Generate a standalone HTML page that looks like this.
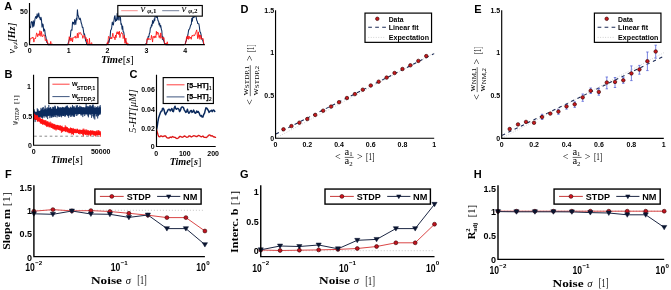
<!DOCTYPE html>
<html><head><meta charset="utf-8"><style>
html,body{margin:0;padding:0;background:#fff;width:671px;height:290px;overflow:hidden}
svg{display:block;will-change:transform}
</style></head><body>
<svg xmlns="http://www.w3.org/2000/svg" width="671" height="290" viewBox="0 0 671 290">
<rect width="671" height="290" fill="#fff"/>
<text x="4.3" y="9.6" font-size="11" font-family="Liberation Sans, sans-serif" font-weight="bold" >A</text>
<text x="4.6" y="77.8" font-size="11" font-family="Liberation Sans, sans-serif" font-weight="bold" >B</text>
<text x="129.6" y="77.9" font-size="11" font-family="Liberation Sans, sans-serif" font-weight="bold" >C</text>
<text x="240.5" y="12.9" font-size="11" font-family="Liberation Sans, sans-serif" font-weight="bold" >D</text>
<text x="474.3" y="12.9" font-size="11" font-family="Liberation Sans, sans-serif" font-weight="bold" >E</text>
<text x="5" y="178.3" font-size="11" font-family="Liberation Sans, sans-serif" font-weight="bold" >F</text>
<text x="240" y="178.4" font-size="11" font-family="Liberation Sans, sans-serif" font-weight="bold" >G</text>
<text x="473.8" y="178.2" font-size="11" font-family="Liberation Sans, sans-serif" font-weight="bold" >H</text>
<polyline points="29.5,27.51 30.04,26.77 30.59,27.77 31.13,22.18 31.68,21.62 32.22,22.51 32.77,27.2 33.31,20.8 33.86,26.11 34.4,23.28 34.95,19.23 35.49,17.14 36.04,16.45 36.58,18.49 37.12,13.81 37.67,17.21 38.21,16.13 38.76,13.03 39.3,17.01 39.85,17.92 40.39,19.77 40.94,17.22 41.48,19.86 42.03,27.2 42.57,23.91 43.12,24.56 43.66,31.11 44.2,28.96 44.75,30.13 45.29,34.83 45.84,36.54 46.38,40.1 46.93,42.56 47.47,42.48 48.02,44.6 48.56,44.6 49.11,44.6 49.65,44.6 50.19,44.6 50.74,44.6 51.28,44.6 51.83,44.6 52.37,44.6 52.92,44.6 53.46,44.6 54.01,44.6 54.55,44.6 55.1,44.6 55.64,44.6 56.19,44.6 56.73,44.6 57.27,44.6 57.82,44.6 58.36,44.6 58.91,44.6 59.45,44.6 60,44.6 60.54,44.6 61.09,44.6 61.63,44.6 62.18,44.6 62.72,44.6 63.27,44.6 63.81,44.6 64.35,44.6 64.9,44.6 65.44,44.6 65.99,44.6 66.53,44.6 67.08,44.6 67.62,44.6 68.17,43.2 68.71,41.61 69.26,39.65 69.8,37.15 70.34,37.07 70.89,30.66 71.43,29.73 71.98,30.24 72.52,22.11 73.07,23.54 73.61,22.4 74.16,24.68 74.7,19.59 75.25,20.91 75.79,24.47 76.34,18.18 76.88,19.96 77.42,9.83 77.97,15.28 78.51,16.03 79.06,18.85 79.6,19.41 80.15,18.15 80.69,20.12 81.24,23.07 81.78,24.34 82.33,27.35 82.87,27.17 83.42,30.54 83.96,34.55 84.5,33.92 85.05,36.76 85.59,40.7 86.14,41.55 86.68,43.95 87.23,44.6 87.77,44.6 88.32,44.6 88.86,44.6 89.41,44.6 89.95,44.6 90.5,44.6 91.04,44.6 91.58,44.6 92.13,44.6 92.67,44.6 93.22,44.6 93.76,44.6 94.31,44.6 94.85,44.6 95.4,44.6 95.94,44.6 96.49,44.6 97.03,44.6 97.58,44.6 98.12,44.6 98.66,44.6 99.21,44.6 99.75,44.6 100.3,44.6 100.84,44.6 101.39,44.6 101.93,44.6 102.48,44.6 103.02,44.6 103.57,44.6 104.11,44.6 104.65,44.6 105.2,44.6 105.74,44.6 106.29,44.6 106.83,44.6 107.38,43.51 107.92,43.42 108.47,40.72 109.01,42.3 109.56,38.97 110.1,37.03 110.65,30.3 111.19,29.71 111.73,27.54 112.28,22.08 112.82,24.44 113.37,24.96 113.91,20.97 114.46,16.7 115,15.65 115.55,21.49 116.09,19.18 116.64,20.51 117.18,13.22 117.73,18.93 118.27,20.05 118.81,12.23 119.36,13.54 119.9,20.1 120.45,17.23 120.99,24.46 121.54,23.82 122.08,29.21 122.63,26.07 123.17,31.74 123.72,32.06 124.26,35.87 124.81,38.63 125.35,40.85 125.89,41.7 126.44,44.44 126.98,44.6 127.53,44.6 128.07,44.6 128.62,44.6 129.16,44.6 129.71,44.6 130.25,44.6 130.8,44.6 131.34,44.6 131.88,44.6 132.43,44.6 132.97,44.6 133.52,44.6 134.06,44.6 134.61,44.6 135.15,44.6 135.7,44.6 136.24,44.6 136.79,44.6 137.33,44.6 137.88,44.6 138.42,44.6 138.96,44.6 139.51,44.6 140.05,44.6 140.6,44.6 141.14,44.6 141.69,44.6 142.23,44.6 142.78,44.6 143.32,44.6 143.87,44.6 144.41,44.6 144.96,44.6 145.5,44.6 146.04,43.5 146.59,43.73 147.13,39.86 147.68,38.85 148.22,36.49 148.77,37.02 149.31,33.79 149.86,32.61 150.4,27.79 150.95,27.64 151.49,24.85 152.03,25.83 152.58,20.53 153.12,23.37 153.67,22.17 154.21,18.96 154.76,20.73 155.3,12.44 155.85,11.66 156.39,17.55 156.94,12.38 157.48,17.72 158.03,20.84 158.57,21.05 159.11,24.89 159.66,23.24 160.2,26.99 160.75,25.57 161.29,29.11 161.84,30.97 162.38,39.49 162.93,36.67 163.47,40.45 164.02,41.53 164.56,43.52 165.11,43.51 165.65,44.6 166.19,44.6 166.74,44.6 167.28,44.6 167.83,44.6 168.37,44.6 168.92,44.6 169.46,44.6 170.01,44.6 170.55,44.6 171.1,44.6 171.64,44.6 172.19,44.6 172.73,44.6 173.27,44.6 173.82,44.6 174.36,44.6 174.91,44.6 175.45,44.6 176,44.6 176.54,44.6 177.09,44.6 177.63,44.6 178.18,44.6 178.72,44.6 179.26,44.6 179.81,44.6 180.35,44.6 180.9,44.6 181.44,44.6 181.99,44.6 182.53,44.6 183.08,44.6 183.62,44.6 184.17,44.6 184.71,44.41 185.26,44.08 185.8,41.18 186.34,41.06 186.89,37.3 187.43,36.84 187.98,34.48 188.52,30.72 189.07,29.3 189.61,28.86 190.16,26.78 190.7,24.88 191.25,24.83 191.79,18.35 192.34,21.22 192.88,16.75 193.42,17.3 193.97,17.55 194.51,15.78 195.06,13.67 195.6,15.49 196.15,17.16 196.69,20.26 197.24,21.24 197.78,23.58 198.33,23.71 198.87,23.73 199.42,27.21 199.96,31.91 200.5,32.42 201.05,34.57 201.59,38.41 202.14,39.51 202.68,40.28 203.23,42.12 203.77,44.43 204.32,44.6" fill="none" stroke="#0c2b5e" stroke-width="1.05" stroke-linejoin="round"/>
<polyline points="29.5,43.93 30.04,39.3 30.59,39.1 31.13,37.84 31.68,38.19 32.22,38.31 32.77,36.99 33.31,37.69 33.86,42.12 34.4,39.56 34.95,38.18 35.49,38.8 36.04,36.2 36.58,33.04 37.12,33.51 37.67,36.78 38.21,34.98 38.76,33.73 39.3,35.55 39.85,30.7 40.39,32.47 40.94,36.45 41.48,31.48 42.03,35.25 42.57,36.78 43.12,35.84 43.66,34.64 44.2,34.96 44.75,36.66 45.29,40.49 45.84,39.69 46.38,41.17 46.93,39.73 47.47,41.93 48.02,44.6 48.56,44.6 49.11,43.6 49.65,44.6 50.19,44.6 50.74,41.43 51.28,44.36 51.83,44.6 52.37,44.17 52.92,44.6 53.46,44.6 54.01,44.6 54.55,44.6 55.1,44.6 55.64,44.6 56.19,44.6 56.73,44.6 57.27,44.6 57.82,44.6 58.36,44.6 58.91,44.6 59.45,44.6 60,44.6 60.54,44.6 61.09,44.6 61.63,44.6 62.18,44.6 62.72,44.6 63.27,44.6 63.81,44.6 64.35,44.6 64.9,44.6 65.44,44.6 65.99,44.6 66.53,44.6 67.08,44.6 67.62,44.6 68.17,44.29 68.71,43.91 69.26,36.71 69.8,39.26 70.34,37.9 70.89,41.12 71.43,39.88 71.98,37.73 72.52,41.98 73.07,37.68 73.61,37.09 74.16,37.72 74.7,37.24 75.25,35.94 75.79,38.29 76.34,37.97 76.88,37.2 77.42,33.24 77.97,38.05 78.51,35.43 79.06,32.45 79.6,33.6 80.15,33.07 80.69,32.64 81.24,34.72 81.78,34.54 82.33,35.5 82.87,38.32 83.42,35.73 83.96,35.96 84.5,35.37 85.05,38.69 85.59,38.59 86.14,37.6 86.68,42.14 87.23,39 87.77,44.6 88.32,43.78 88.86,44.6 89.41,38.32 89.95,44.6 90.5,44.6 91.04,43.48 91.58,42.63 92.13,44.6 92.67,44.6 93.22,44.6 93.76,44.6 94.31,44.6 94.85,44.6 95.4,44.6 95.94,44.6 96.49,44.6 97.03,44.6 97.58,44.6 98.12,44.6 98.66,44.6 99.21,44.6 99.75,44.6 100.3,44.6 100.84,44.6 101.39,44.6 101.93,44.6 102.48,44.6 103.02,44.6 103.57,44.6 104.11,44.6 104.65,44.6 105.2,44.6 105.74,44.6 106.29,44.6 106.83,44.6 107.38,42.36 107.92,44.15 108.47,36.52 109.01,36.53 109.56,37.33 110.1,38.33 110.65,38.97 111.19,37.1 111.73,38.85 112.28,36.61 112.82,33.26 113.37,36.64 113.91,37.63 114.46,36.9 115,39.8 115.55,35.02 116.09,37.7 116.64,32.62 117.18,31.66 117.73,34.02 118.27,31.95 118.81,34.67 119.36,31.2 119.9,37.6 120.45,34.45 120.99,34.02 121.54,32.4 122.08,33.67 122.63,33.6 123.17,38.49 123.72,37.35 124.26,35.31 124.81,43.21 125.35,42.34 125.89,38.05 126.44,44.59 126.98,42.68 127.53,44.6 128.07,43.53 128.62,44.6 129.16,44.01 129.71,44.6 130.25,44.6 130.8,44.6 131.34,44.6 131.88,44.6 132.43,44.6 132.97,44.6 133.52,44.6 134.06,44.6 134.61,44.6 135.15,44.6 135.7,44.6 136.24,44.6 136.79,44.6 137.33,44.6 137.88,44.6 138.42,44.6 138.96,44.6 139.51,44.6 140.05,44.6 140.6,44.6 141.14,44.6 141.69,44.6 142.23,44.6 142.78,44.6 143.32,44.6 143.87,44.6 144.41,44.6 144.96,44.6 145.5,44.6 146.04,43.83 146.59,44.28 147.13,38.43 147.68,38.52 148.22,39.83 148.77,38.15 149.31,39.29 149.86,38.97 150.4,39.59 150.95,39.23 151.49,35.33 152.03,38.41 152.58,42.08 153.12,36.23 153.67,36.71 154.21,38.1 154.76,35.99 155.3,36.07 155.85,37.71 156.39,31.34 156.94,34.63 157.48,31.99 158.03,33.04 158.57,33.09 159.11,37.44 159.66,35.66 160.2,38.35 160.75,32.87 161.29,36.91 161.84,37.76 162.38,37.25 162.93,39.3 163.47,37.69 164.02,37.57 164.56,42.69 165.11,44.4 165.65,44.6 166.19,43.02 166.74,44.6 167.28,41.79 167.83,44.6 168.37,44.6 168.92,44.6 169.46,44.54 170.01,44.6 170.55,44.6 171.1,44.6 171.64,44.6 172.19,44.6 172.73,44.6 173.27,44.6 173.82,44.6 174.36,44.6 174.91,44.6 175.45,44.6 176,44.6 176.54,44.6 177.09,44.6 177.63,44.6 178.18,44.6 178.72,44.6 179.26,44.6 179.81,44.6 180.35,44.6 180.9,44.6 181.44,44.6 181.99,44.6 182.53,44.6 183.08,44.6 183.62,44.6 184.17,44.6 184.71,44.41 185.26,43.65 185.8,42.53 186.34,38.74 186.89,36.44 187.43,38.94 187.98,35.86 188.52,39.36 189.07,36.09 189.61,38.41 190.16,38.22 190.7,37.11 191.25,39.3 191.79,36.02 192.34,35.2 192.88,36.24 193.42,35.42 193.97,34.69 194.51,35.78 195.06,34.68 195.6,32.75 196.15,31.5 196.69,29.88 197.24,34.84 197.78,38.73 198.33,31.86 198.87,37.38 199.42,34.84 199.96,39.4 200.5,35.14 201.05,35.97 201.59,39.37 202.14,38.98 202.68,38.16 203.23,38.76 203.77,44.31 204.32,44.6" fill="none" stroke="#ff1010" stroke-width="0.85" stroke-linejoin="round"/>
<path d="M29.5 3.1V44.6H204.8" fill="none" stroke="#000" stroke-width="1.15"/>
<text x="27.8" y="14" font-size="7" font-family="Liberation Sans, sans-serif" font-weight="bold" text-anchor="end" >50</text>
<text x="27.8" y="47.3" font-size="7" font-family="Liberation Sans, sans-serif" font-weight="bold" text-anchor="end" >0</text>
<text x="29.7" y="52.8" font-size="7" font-family="Liberation Sans, sans-serif" font-weight="bold" text-anchor="middle" >0</text>
<text x="68.6" y="52.8" font-size="7" font-family="Liberation Sans, sans-serif" font-weight="bold" text-anchor="middle" >1</text>
<text x="107.5" y="52.8" font-size="7" font-family="Liberation Sans, sans-serif" font-weight="bold" text-anchor="middle" >2</text>
<text x="146.4" y="52.8" font-size="7" font-family="Liberation Sans, sans-serif" font-weight="bold" text-anchor="middle" >3</text>
<text x="185.3" y="52.8" font-size="7" font-family="Liberation Sans, sans-serif" font-weight="bold" text-anchor="middle" >4</text>
<text x="100.9" y="62.6" font-size="9.8" font-family="Liberation Serif, serif" textLength="32.9" lengthAdjust="spacingAndGlyphs"><tspan font-weight="bold" font-style="italic">Time</tspan>[<tspan font-weight="bold" font-style="italic">s</tspan>]</text>
<g transform="translate(15.3,38.2) rotate(-90)"><text x="0" y="0" font-size="10" font-family="Liberation Serif, serif" font-style="italic" text-anchor="middle"><tspan font-size="10.5">ν</tspan><tspan font-size="6.5" dy="1.6">φ,i</tspan><tspan dy="-1.6">[</tspan><tspan font-weight="bold">Hz</tspan><tspan>]</tspan></text></g>
<rect x="117.8" y="5.5" width="84.5" height="10.65" fill="#fff" stroke="#000" stroke-width="1.15"/>
<line x1="121.2" y1="10.7" x2="137.7" y2="10.7" stroke="#f06060" stroke-width="0.7" />
<line x1="162.2" y1="10.7" x2="179.2" y2="10.7" stroke="#3a4a70" stroke-width="0.7" />
<text x="140.4" y="12.0" font-size="11" font-family="Liberation Serif, serif" font-style="italic">ν</text>
<text x="147.2" y="13.3" font-size="7" font-family="Liberation Serif, serif" font-weight="bold"><tspan font-style="italic">φ</tspan>,1</text>
<text x="181.4" y="12.0" font-size="11" font-family="Liberation Serif, serif" font-style="italic">ν</text>
<text x="188.2" y="13.3" font-size="7" font-family="Liberation Serif, serif" font-weight="bold"><tspan font-style="italic">φ</tspan>,2</text>
<polygon points="33.95,112.84 35.06,112.41 36.17,112.01 37.28,111.64 38.39,111.31 39.5,111.01 40.6,110.73 41.71,110.48 42.82,110.25 43.93,110.04 45.04,109.85 46.15,109.67 47.26,109.51 48.37,109.37 49.48,109.24 50.59,109.12 51.7,109.01 52.81,108.91 53.91,108.82 55.02,108.73 56.13,108.66 57.24,108.59 58.35,108.52 59.46,108.47 60.57,108.41 61.68,108.37 62.79,108.32 63.9,108.28 65.01,108.25 66.12,108.21 67.22,108.18 68.33,108.16 69.44,108.13 70.55,108.11 71.66,108.09 72.77,108.07 73.88,108.05 74.99,108.04 76.1,108.02 77.21,108.01 78.32,108 79.43,107.99 80.53,107.98 81.64,107.97 82.75,107.96 83.86,107.95 84.97,107.94 86.08,107.94 87.19,107.93 88.3,107.93 89.41,107.92 90.52,107.92 91.63,107.91 92.74,107.91 93.84,107.91 94.95,107.9 96.06,107.9 97.17,107.9 98.28,107.9 99.39,107.9 100.5,107.89 100.5,113.97 99.39,113.97 98.28,113.97 97.17,113.97 96.06,113.98 94.95,113.98 93.84,113.98 92.74,113.98 91.63,113.99 90.52,113.99 89.41,114 88.3,114 87.19,114.01 86.08,114.01 84.97,114.02 83.86,114.03 82.75,114.03 81.64,114.04 80.53,114.05 79.43,114.06 78.32,114.07 77.21,114.08 76.1,114.1 74.99,114.11 73.88,114.13 72.77,114.14 71.66,114.16 70.55,114.18 69.44,114.21 68.33,114.23 67.22,114.26 66.12,114.29 65.01,114.32 63.9,114.36 62.79,114.4 61.68,114.44 60.57,114.49 59.46,114.54 58.35,114.6 57.24,114.66 56.13,114.73 55.02,114.81 53.91,114.89 52.81,114.98 51.7,115.08 50.59,115.19 49.48,115.31 48.37,115.44 47.26,115.59 46.15,115.75 45.04,115.92 43.93,116.11 42.82,116.32 41.71,116.55 40.6,116.8 39.5,117.08 38.39,117.38 37.28,117.71 36.17,118.08 35.06,118.48 33.95,118.92" fill="#0c2b5e"/>
<polyline points="33.95,115 34,116.82 34.05,117.59 34.09,117.21 34.14,115.44 34.19,109.39 34.24,117.33 34.28,113.68 34.33,113.59 34.38,116.36 34.43,112.16 34.47,111.87 34.52,113.21 34.57,117.26 34.62,114.33 34.66,110.96 34.71,116.84 34.76,114.86 34.81,118.77 34.85,117.53 34.9,115.43 34.95,113.72 35,118.93 35.04,116.33 35.09,118.2 35.14,122.09 35.19,117.27 35.23,119.42 35.28,120.07 35.33,114.89 35.38,115.17 35.42,115.54 35.47,112.59 35.52,114.41 35.57,115.9 35.61,119.64 35.66,114.49 35.71,115.13 35.76,116.96 35.81,114.62 35.85,115.96 35.9,111.81 35.95,114.11 36,116.85 36.04,111.98 36.09,113.19 36.14,112.96 36.19,113.64 36.23,114.01 36.28,115.61 36.33,112.31 36.38,116.99 36.42,115.6 36.47,115.18 36.52,113.98 36.57,112.48 36.61,114.98 36.66,113.92 36.71,114.38 36.76,116.96 36.8,112.25 36.85,113.04 36.9,113.28 36.95,115.92 36.99,113.88 37.04,118.03 37.09,112.52 37.14,113.13 37.18,113.19 37.23,119.36 37.28,108.34 37.33,112.42 37.38,113.68 37.42,110.96 37.47,116.48 37.52,111.18 37.57,113.44 37.61,111.99 37.66,115.03 37.71,110.03 37.76,117.06 37.8,118.24 37.85,115.69 37.9,118.39 37.95,113.23 37.99,109.11 38.04,112.75 38.09,115.58 38.14,112.7 38.18,114.63 38.23,110.81 38.28,115.55 38.33,113.45 38.37,111.96 38.42,115.94 38.47,111.64 38.52,114.37 38.56,112.41 38.61,113.07 38.66,114.44 38.71,111.07 38.75,116.41 38.8,112.91 38.85,114.68 38.9,113.46 38.94,112.15 38.99,112.11 39.04,113.75 39.09,112.24 39.14,119.87 39.18,112.09 39.23,113.49 39.28,114.01 39.33,113.33 39.37,113.53 39.42,116.78 39.47,114.53 39.52,113.81 39.56,112.63 39.61,112.27 39.66,117.39 39.71,113.16 39.75,111.81 39.8,115.24 39.85,115.6 39.9,116.43 39.94,116.8 39.99,117.12 40.04,114.4 40.09,114.18 40.13,114.09 40.18,110.46 40.23,114.76 40.28,113.67 40.32,111.99 40.37,114 40.42,113.33 40.47,115.46 40.51,112.88 40.56,113.68 40.61,113.13 40.66,114.42 40.7,115.23 40.75,115.39 40.8,113.77 40.85,112.95 40.9,115.31 40.94,115.37 40.99,107.87 41.04,113.24 41.09,111.14 41.13,112.16 41.18,111.68 41.23,113.12 41.28,112.99 41.32,109.52 41.37,116.63 41.42,111.59 41.47,114.48 41.51,113.57 41.56,114.17 41.61,115.08 41.66,109.37 41.7,117.99 41.75,111.05 41.8,116.56 41.85,110.61 41.89,110.21 41.94,111.46 41.99,115.5 42.04,112.73 42.08,114.69 42.13,114.79 42.18,115.36 42.23,111.47 42.27,113.1 42.32,112.55 42.37,116.47 42.42,108.13 42.46,115.42 42.51,118.52 42.56,117 42.61,115.84 42.66,112.78 42.7,114.35 42.75,112.58 42.8,117.56 42.85,107.55 42.89,111.14 42.94,114.97 42.99,114.62 43.04,113.04 43.08,114.21 43.13,113.21 43.18,112.32 43.23,116.35 43.27,107.09 43.32,113.28 43.37,112.15 43.42,113.84 43.46,115.75 43.51,115.82 43.56,115.66 43.61,113.77 43.65,114.2 43.7,115.28 43.75,114.07 43.8,113.07 43.84,111.25 43.89,115 43.94,114.1 43.99,114.84 44.03,113.14 44.08,111.91 44.13,113.1 44.18,110.1 44.23,117.6 44.27,111.85 44.32,111.92 44.37,110.85 44.42,113.99 44.46,113.25 44.51,108.73 44.56,115.77 44.61,114.89 44.65,111.9 44.7,111.65 44.75,110.77 44.8,114.27 44.84,113.63 44.89,113.59 44.94,115.4 44.99,112.63 45.03,111.17 45.08,110.37 45.13,113.84 45.18,105.61 45.22,109.01 45.27,111.56 45.32,108.68 45.37,112.35 45.41,114.76 45.46,111.23 45.51,112.14 45.56,111.8 45.6,115.58 45.65,109.61 45.7,110 45.75,109.3 45.79,109.16 45.84,114.53 45.89,111.96 45.94,111.46 45.99,112.64 46.03,117.07 46.08,112.34 46.13,113.34 46.18,115.43 46.22,114.88 46.27,114.65 46.32,117.47 46.37,115.13 46.41,115.01 46.46,113.32 46.51,112.94 46.56,113.53 46.6,111.56 46.65,110.84 46.7,107.87 46.75,113.69 46.79,114.5 46.84,110.13 46.89,116.06 46.94,112.58 46.98,110.15 47.03,112.49 47.08,112.39 47.13,115.79 47.17,111.45 47.22,111.63 47.27,114.85 47.32,115.47 47.36,109.23 47.41,111.28 47.46,112.2 47.51,112.7 47.55,113.49 47.6,119.05 47.65,116.02 47.7,111.85 47.75,113.96 47.79,107.22 47.84,113.94 47.89,111.65 47.94,112.84 47.98,109.62 48.03,108.06 48.08,110.65 48.13,110.16 48.17,112.67 48.22,109.52 48.27,111.82 48.32,111.09 48.36,111.23 48.41,113.31 48.46,115.82 48.51,113.06 48.55,115.42 48.6,113.47 48.65,108.92 48.7,112.52 48.74,113.05 48.79,104.9 48.84,112.1 48.89,114.98 48.93,108 48.98,110.97 49.03,109.08 49.08,112.65 49.12,111.67 49.17,112.3 49.22,114.98 49.27,111.08 49.32,115.16 49.36,108.75 49.41,115.28 49.46,112.71 49.51,110.71 49.55,110.52 49.6,107.87 49.65,111.86 49.7,110.99 49.74,111.71 49.79,109.82 49.84,118.17 49.89,109.65 49.93,114.28 49.98,115.06 50.03,115.85 50.08,113.71 50.12,111.2 50.17,109.1 50.22,111.95 50.27,111.14 50.31,108.99 50.36,111.59 50.41,113.57 50.46,107.26 50.5,110.62 50.55,107.43 50.6,111.96 50.65,112.29 50.69,114.83 50.74,112.06 50.79,111.45 50.84,113.73 50.88,116.58 50.93,114.59 50.98,112.98 51.03,112.45 51.08,108.6 51.12,111.79 51.17,112.39 51.22,112.32 51.27,117.98 51.31,110.48 51.36,113.57 51.41,114.64 51.46,114.83 51.5,116.67 51.55,111.16 51.6,115.69 51.65,110.53 51.69,111.23 51.74,108.71 51.79,111.68 51.84,111.58 51.88,115.47 51.93,110.9 51.98,111.13 52.03,111.77 52.07,111.89 52.12,113.64 52.17,114.59 52.22,116.33 52.26,113.37 52.31,110.76 52.36,106.86 52.41,113.67 52.45,111.94 52.5,115.44 52.55,111.04 52.6,115.38 52.64,112.12 52.69,109.68 52.74,111.62 52.79,117.32 52.84,113.94 52.88,111.63 52.93,109.02 52.98,111.35 53.03,108.9 53.07,110.98 53.12,113.72 53.17,112.82 53.22,112.88 53.26,107.94 53.31,108.78 53.36,109.76 53.41,117.04 53.45,115.27 53.5,109.44 53.55,108.09 53.6,108.95 53.64,106.87 53.69,108.73 53.74,112.04 53.79,107.21 53.83,108.69 53.88,114.97 53.93,110.19 53.98,114.62 54.02,110.5 54.07,115.85 54.12,116.15 54.17,113.08 54.21,114.93 54.26,116.72 54.31,112.49 54.36,113.03 54.4,109.36 54.45,111.55 54.5,109.61 54.55,113.74 54.6,111.89 54.64,114.71 54.69,114.44 54.74,113.6 54.79,113.15 54.83,112.12 54.88,105.68 54.93,112.66 54.98,113.13 55.02,112.43 55.07,109.81 55.12,110.07 55.17,112.81 55.21,106.96 55.26,111.37 55.31,106.27 55.36,111.99 55.4,112.05 55.45,117.09 55.5,111.75 55.55,114.3 55.59,108.64 55.64,114.62 55.69,113.23 55.74,114.9 55.78,112.49 55.83,112.52 55.88,112.5 55.93,115.07 55.97,114.99 56.02,110.75 56.07,110.29 56.12,112.36 56.17,113.87 56.21,109.86 56.26,113.08 56.31,112.07 56.36,112.8 56.4,111.81 56.45,112.27 56.5,114.55 56.55,114.16 56.59,112.01 56.64,112.64 56.69,113.9 56.74,109.37 56.78,111.88 56.83,111.97 56.88,111.41 56.93,112.37 56.97,113.81 57.02,111.95 57.07,117.44 57.12,110.85 57.16,113.95 57.21,110.88 57.26,116.03 57.31,113.24 57.35,112.29 57.4,114.53 57.45,115.08 57.5,112.46 57.54,108.63 57.59,114.53 57.64,107.82 57.69,111.66 57.73,105.97 57.78,112.81 57.83,113.37 57.88,107.09 57.93,108.91 57.97,112.36 58.02,110.9 58.07,108.75 58.12,112.64 58.16,112.5 58.21,112.97 58.26,114.07 58.31,113.59 58.35,115.67 58.4,110.28 58.45,114.84 58.5,112.28 58.54,107.1 58.59,108.71 58.64,112.38 58.69,108.8 58.73,109.59 58.78,114.64 58.83,115.55 58.88,109.3 58.92,116.83 58.97,111.01 59.02,109.83 59.07,108.67 59.11,113.15 59.16,108.1 59.21,114.04 59.26,110.96 59.3,110.53 59.35,112.98 59.4,109.51 59.45,112.42 59.49,116.71 59.54,111 59.59,113.07 59.64,113.08 59.69,114.45 59.73,111.01 59.78,113.85 59.83,110.47 59.88,112.71 59.92,107.05 59.97,111.88 60.02,108.59 60.07,110.9 60.11,113.6 60.16,114.45 60.21,113.27 60.26,112.34 60.3,116.5 60.35,111.55 60.4,111.2 60.45,114.24 60.49,113.72 60.54,114.05 60.59,113.64 60.64,114.5 60.68,113.56 60.73,115.46 60.78,110.35 60.83,107.32 60.87,110.46 60.92,114.53 60.97,108.09 61.02,111.54 61.06,109.35 61.11,114.61 61.16,109.94 61.21,112.06 61.26,111.71 61.3,116.31 61.35,110.5 61.4,107.82 61.45,111.57 61.49,112.38 61.54,111.72 61.59,117.28 61.64,113.26 61.68,111.16 61.73,110.18 61.78,113.84 61.83,112.53 61.87,114.1 61.92,108.36 61.97,111.27 62.02,113.43 62.06,113.88 62.11,115.9 62.16,110.54 62.21,111.21 62.25,113.17 62.3,113.03 62.35,106.88 62.4,112.6 62.44,107.62 62.49,112.62 62.54,110.17 62.59,111.62 62.63,110.47 62.68,114.01 62.73,111.93 62.78,107.29 62.82,113.92 62.87,113.82 62.92,112.1 62.97,114.24 63.02,115.98 63.06,109.12 63.11,115.54 63.16,114.46 63.21,109.43 63.25,111.32 63.3,109.28 63.35,116.03 63.4,109.47 63.44,115.9 63.49,108.69 63.54,114.91 63.59,111.92 63.63,110.48 63.68,110.08 63.73,107.44 63.78,114.21 63.82,113.62 63.87,111.44 63.92,107.23 63.97,107.53 64.01,108.99 64.06,115.9 64.11,113.82 64.16,114.55 64.2,110.83 64.25,109.7 64.3,107.85 64.35,113.73 64.39,109.6 64.44,108.93 64.49,111.34 64.54,110.97 64.58,112.69 64.63,111.79 64.68,111.36 64.73,109.41 64.78,113.4 64.82,110.82 64.87,113.83 64.92,108.64 64.97,117.02 65.01,110.81 65.06,109.81 65.11,115.92 65.16,113.03 65.2,110.52 65.25,111.76 65.3,106.75 65.35,107.03 65.39,115.17 65.44,116.02 65.49,112.64 65.54,110.81 65.58,111.15 65.63,110.59 65.68,106.91 65.73,114.31 65.77,110.39 65.82,115.02 65.87,109.97 65.92,110.79 65.96,112.17 66.01,113.11 66.06,109.54 66.11,109.92 66.15,112.73 66.2,111.07 66.25,111.42 66.3,111.6 66.34,105.77 66.39,109.98 66.44,107.8 66.49,115.06 66.54,106.62 66.58,108.01 66.63,113.37 66.68,110.58 66.73,112.18 66.77,112.22 66.82,111.94 66.87,114.26 66.92,111.49 66.96,108.71 67.01,110.05 67.06,113.1 67.11,113.42 67.15,106.4 67.2,106.34 67.25,109.4 67.3,113.21 67.34,110.93 67.39,116.17 67.44,105.54 67.49,109.56 67.53,110.05 67.58,111.51 67.63,109.95 67.68,115.27 67.72,109.69 67.77,111.66 67.82,110.66 67.87,109.21 67.91,106.92 67.96,109.71 68.01,108.23 68.06,111.7 68.11,115.32 68.15,112.86 68.2,114.22 68.25,107.44 68.3,110.96 68.34,108.63 68.39,112.68 68.44,114.99 68.49,115.73 68.53,111.08 68.58,112.5 68.63,117.78 68.68,113.95 68.72,115.5 68.77,113.38 68.82,110.26 68.87,111.37 68.91,108.57 68.96,115.92 69.01,115.83 69.06,113.6 69.1,113.98 69.15,113.82 69.2,110.92 69.25,109.64 69.29,110.92 69.34,111.72 69.39,111.01 69.44,110.73 69.48,114.95 69.53,111.72 69.58,111.32 69.63,111.89 69.67,113.15 69.72,111.17 69.77,109.02 69.82,108.67 69.87,114.81 69.91,112.95 69.96,108.91 70.01,112.09 70.06,113.59 70.1,111.55 70.15,112.11 70.2,109.61 70.25,106.75 70.29,111.67 70.34,110.68 70.39,111.81 70.44,109.45 70.48,111.89 70.53,113.13 70.58,108.88 70.63,111.65 70.67,111.16 70.72,110.18 70.77,116.83 70.82,107.33 70.86,114.53 70.91,111.5 70.96,107.46 71.01,108.1 71.05,112.7 71.1,116.64 71.15,108.7 71.2,111.88 71.24,112.13 71.29,113.06 71.34,111.3 71.39,110.38 71.43,110.12 71.48,112.81 71.53,110.01 71.58,115.62 71.63,112.47 71.67,112.09 71.72,112.46 71.77,114.35 71.82,112.13 71.86,111.04 71.91,109.39 71.96,111.45 72.01,111.31 72.05,110.89 72.1,108 72.15,109.07 72.2,111.28 72.24,106.58 72.29,109.09 72.34,113.13 72.39,109.4 72.43,110.15 72.48,104.98 72.53,112.3 72.58,109.16 72.62,108.43 72.67,114.79 72.72,111.28 72.77,115.24 72.81,112.51 72.86,116.36 72.91,106.93 72.96,110.99 73,107.99 73.05,111.84 73.1,108.76 73.15,113.5 73.19,114.89 73.24,110.07 73.29,113.37 73.34,111.92 73.39,109.41 73.43,113.44 73.48,111.55 73.53,109.8 73.58,106.4 73.62,108.2 73.67,107.83 73.72,116.36 73.77,110.79 73.81,111.28 73.86,116.61 73.91,111 73.96,108.13 74,111.12 74.05,112.86 74.1,109.61 74.15,107.6 74.19,112.27 74.24,112.83 74.29,109.32 74.34,106.47 74.38,115.42 74.43,116.88 74.48,116.85 74.53,110.48 74.57,112.45 74.62,109.73 74.67,113.69 74.72,112.75 74.76,115.3 74.81,112.33 74.86,110.39 74.91,112.66 74.96,111.12 75,112.9 75.05,112.45 75.1,108.64 75.15,110.41 75.19,111.15 75.24,111.27 75.29,114.19 75.34,112.95 75.38,112.89 75.43,111.7 75.48,107.86 75.53,111.12 75.57,108.78 75.62,107.61 75.67,109.64 75.72,108.45 75.76,108.07 75.81,111.89 75.86,111.16 75.91,110.44 75.95,110.22 76,111.35 76.05,109.34 76.1,110.85 76.14,110.27 76.19,110.83 76.24,109.3 76.29,105.36 76.33,116.03 76.38,114.79 76.43,110.95 76.48,108.62 76.52,112.87 76.57,106.39 76.62,110.99 76.67,109.54 76.72,109.05 76.76,111.41 76.81,113.42 76.86,111.56 76.91,107.77 76.95,107.84 77,110.32 77.05,109.18 77.1,112.2 77.14,112.97 77.19,109.42 77.24,109.98 77.29,115.42 77.33,109.42 77.38,113.41 77.43,107.91 77.48,109.47 77.52,105.23 77.57,112.28 77.62,110.66 77.67,108.4 77.71,112.97 77.76,112.36 77.81,112.11 77.86,114.1 77.9,111.29 77.95,113.73 78,108.66 78.05,111.84 78.09,110.37 78.14,112.6 78.19,107.77 78.24,112.9 78.28,108.83 78.33,111.69 78.38,109.4 78.43,111.54 78.48,108.59 78.52,107.42 78.57,114.31 78.62,107.39 78.67,110.35 78.71,114.1 78.76,109.15 78.81,109.72 78.86,112.9 78.9,106.97 78.95,107.44 79,110.35 79.05,110.85 79.09,111.81 79.14,108.76 79.19,112.02 79.24,112.2 79.28,111.42 79.33,112.86 79.38,111.09 79.43,110.94 79.47,111.19 79.52,110.31 79.57,109.27 79.62,110.48 79.66,109.67 79.71,105.75 79.76,111.86 79.81,113.33 79.85,111.23 79.9,109.97 79.95,107.61 80,112.62 80.05,112.88 80.09,112.96 80.14,113.66 80.19,109.74 80.24,110.96 80.28,111.75 80.33,111.23 80.38,107.94 80.43,112.8 80.47,111.52 80.52,112.41 80.57,110.15 80.62,111.99 80.66,114.53 80.71,113.66 80.76,111.27 80.81,112.57 80.85,106.16 80.9,113.27 80.95,107.11 81,109.24 81.04,107.83 81.09,110.54 81.14,115.61 81.19,112.07 81.23,109.73 81.28,109.76 81.33,107.4 81.38,112.25 81.42,108.54 81.47,110.68 81.52,110.85 81.57,107.64 81.61,109.04 81.66,108.8 81.71,109.21 81.76,111.31 81.81,111.09 81.85,114.99 81.9,115.13 81.95,107.14 82,109.66 82.04,109.63 82.09,107.78 82.14,108.89 82.19,107.25 82.23,111.73 82.28,109.61 82.33,113.1 82.38,108.72 82.42,110.95 82.47,110.29 82.52,109.37 82.57,114.47 82.61,113.88 82.66,110.89 82.71,111.87 82.76,111.49 82.8,117.08 82.85,108.73 82.9,112.48 82.95,107.72 82.99,110.25 83.04,110.63 83.09,110.69 83.14,110.87 83.18,107.99 83.23,113.36 83.28,113.84 83.33,111.78 83.37,111.99 83.42,112 83.47,107.1 83.52,108.8 83.57,112.71 83.61,113.65 83.66,111.73 83.71,112.1 83.76,114.17 83.8,114.54 83.85,111.49 83.9,112.28 83.95,108.82 83.99,111.8 84.04,111.11 84.09,109.23 84.14,110.99 84.18,112.72 84.23,109.59 84.28,107.61 84.33,113.94 84.37,110.19 84.42,108.31 84.47,112.7 84.52,110.57 84.56,112.24 84.61,107.83 84.66,116.05 84.71,113.69 84.75,111.24 84.8,109.41 84.85,111.3 84.9,113.37 84.94,108.55 84.99,107.3 85.04,109.99 85.09,110.02 85.13,110.07 85.18,109.34 85.23,111.1 85.28,112.41 85.33,109.12 85.37,111.01 85.42,111.35 85.47,113.96 85.52,111.23 85.56,110.05 85.61,113.07 85.66,111.49 85.71,111.37 85.75,110.64 85.8,110.56 85.85,111.05 85.9,109.58 85.94,113.23 85.99,115.06 86.04,106.82 86.09,111.05 86.13,103.16 86.18,109.75 86.23,106.39 86.28,110.05 86.32,113.01 86.37,113.59 86.42,111.91 86.47,113.48 86.51,113.28 86.56,111.22 86.61,108.64 86.66,108.46 86.7,111.29 86.75,113.15 86.8,111.84 86.85,108.93 86.9,110.93 86.94,105.96 86.99,111.17 87.04,112.32 87.09,108.67 87.13,111.09 87.18,108.53 87.23,108.06 87.28,109.62 87.32,110.05 87.37,107.44 87.42,108.44 87.47,110.58 87.51,112.26 87.56,112.23 87.61,109.01 87.66,108.25 87.7,113.75 87.75,113.37 87.8,115.45 87.85,107.45 87.89,113.72 87.94,109.54 87.99,106.03 88.04,114.32 88.08,108.4 88.13,108.54 88.18,107.89 88.23,114.42 88.27,116.32 88.32,108.07 88.37,112.44 88.42,117.34 88.46,109.66 88.51,106.83 88.56,113.17 88.61,108.49 88.66,112.81 88.7,110.92 88.75,110.47 88.8,109.4 88.85,112.21 88.89,110.92 88.94,110.12 88.99,106.92 89.04,108.95 89.08,109.01 89.13,106.94 89.18,110.45 89.23,108.84 89.27,114.02 89.32,108.89 89.37,111.6 89.42,110.58 89.46,114.27 89.51,110.84 89.56,105.39 89.61,110.48 89.65,107.78 89.7,109.79 89.75,109.77 89.8,110.17 89.84,107.16 89.89,108.55 89.94,113.61 89.99,112.6 90.03,112.92 90.08,107.43 90.13,110.6 90.18,115.18 90.22,108.29 90.27,111.34 90.32,107.12 90.37,111.43 90.42,109.57 90.46,111.16 90.51,105.24 90.56,111.71 90.61,112.56 90.65,111.4 90.7,114.11 90.75,113.43 90.8,108.33 90.84,114.31 90.89,111.62 90.94,113.52 90.99,106.46 91.03,113.71 91.08,110.81 91.13,107.95 91.18,112 91.22,109.53 91.27,113.5 91.32,108.42 91.37,107.13 91.41,110.45 91.46,112.14 91.51,108.66 91.56,117.87 91.6,110.89 91.65,107.11 91.7,112.65 91.75,113.99 91.79,109.95 91.84,113.15 91.89,112.5 91.94,109.68 91.99,106.02 92.03,109.93 92.08,112.13 92.13,111.11 92.18,110.43 92.22,105.56 92.27,110.63 92.32,109.73 92.37,110.09 92.41,113.88 92.46,106.3 92.51,110.32 92.56,111.03 92.6,111.2 92.65,111.58 92.7,109.44 92.75,110.46 92.79,104.67 92.84,116.25 92.89,108.55 92.94,107.73 92.98,112.69 93.03,108.66 93.08,109.55 93.13,104.68 93.17,111.17 93.22,109.43 93.27,108.13 93.32,110.16 93.36,111.18 93.41,110.67 93.46,113.92 93.51,111.79 93.55,108.2 93.6,113.72 93.65,116.7 93.7,107.74 93.75,112.1 93.79,106.63 93.84,111.89 93.89,118.41 93.94,108.02 93.98,109.17 94.03,113.55 94.08,109.19 94.13,112.28 94.17,113.3 94.22,112.61 94.27,113.15 94.32,114.28 94.36,107.81 94.41,111.49 94.46,110.24 94.51,113.41 94.55,114.81 94.6,113.8 94.65,115.72 94.7,108.32 94.74,115.02 94.79,119.48 94.84,115.01 94.89,112.03 94.93,109.69 94.98,111.59 95.03,112.19 95.08,106.38 95.12,112.51 95.17,111.96 95.22,108.85 95.27,114.17 95.31,108.89 95.36,112.49 95.41,113.49 95.46,111.26 95.51,108.93 95.55,113.57 95.6,113.91 95.65,109.64 95.7,110.89 95.74,113.08 95.79,113.02 95.84,111.03 95.89,110.97 95.93,112.01 95.98,108.05 96.03,111.19 96.08,108.32 96.12,109.85 96.17,110.26 96.22,109.87 96.27,116.35 96.31,106.98 96.36,109.87 96.41,112.41 96.46,112.12 96.5,108.6 96.55,108.46 96.6,111.71 96.65,111.37 96.69,108.6 96.74,109.65 96.79,107.7 96.84,112.32 96.88,116.22 96.93,113.16 96.98,109.41 97.03,110.99 97.07,111.89 97.12,107.86 97.17,107.35 97.22,110 97.27,110.78 97.31,112.16 97.36,110.47 97.41,111.97 97.46,111.69 97.5,111.26 97.55,111.75 97.6,110.85 97.65,118.44 97.69,115.3 97.74,109.58 97.79,105.88 97.84,108.87 97.88,109.69 97.93,114.97 97.98,107.8 98.03,110.91 98.07,108.54 98.12,111.38 98.17,109.71 98.22,107.67 98.26,112.41 98.31,108.9 98.36,111.88 98.41,116.1 98.45,114.33 98.5,111.81 98.55,109.18 98.6,112.02 98.64,115.22 98.69,108.49 98.74,111.99 98.79,114.14 98.84,109.52 98.88,107.96 98.93,109.49 98.98,115.02 99.03,112.58 99.07,111.86 99.12,112.76 99.17,107.59 99.22,106.58 99.26,107.38 99.31,108.51 99.36,111.96 99.41,112.52 99.45,110.46 99.5,110.24 99.55,109.88 99.6,112.68 99.64,112.25 99.69,108.07 99.74,113.05 99.79,106.73 99.83,108.51 99.88,111.24 99.93,112.04 99.98,112.28 100.02,114.79 100.07,110.05 100.12,107.46 100.17,107.9 100.21,105.12 100.26,111.07 100.31,113.29 100.36,107.59 100.4,108.57 100.45,109.37 100.5,111.95" fill="none" stroke="#0c2b5e" stroke-width="0.6"/>
<polygon points="33.95,114.83 35.06,115.63 36.17,116.39 37.28,117.12 38.39,117.82 39.5,118.49 40.6,119.13 41.71,119.74 42.82,120.32 43.93,120.88 45.04,121.42 46.15,121.93 47.26,122.42 48.37,122.89 49.48,123.34 50.59,123.77 51.7,124.18 52.81,124.57 53.91,124.94 55.02,125.3 56.13,125.65 57.24,125.98 58.35,126.29 59.46,126.59 60.57,126.88 61.68,127.15 62.79,127.42 63.9,127.67 65.01,127.91 66.12,128.14 67.22,128.36 68.33,128.57 69.44,128.77 70.55,128.97 71.66,129.15 72.77,129.33 73.88,129.5 74.99,129.66 76.1,129.81 77.21,129.96 78.32,130.1 79.43,130.24 80.53,130.37 81.64,130.49 82.75,130.61 83.86,130.72 84.97,130.83 86.08,130.93 87.19,131.03 88.3,131.13 89.41,131.22 90.52,131.31 91.63,131.39 92.74,131.47 93.84,131.54 94.95,131.62 96.06,131.69 97.17,131.75 98.28,131.82 99.39,131.88 100.5,131.94 100.5,134.97 99.39,134.91 98.28,134.85 97.17,134.79 96.06,134.72 94.95,134.65 93.84,134.58 92.74,134.5 91.63,134.43 90.52,134.34 89.41,134.26 88.3,134.16 87.19,134.07 86.08,133.97 84.97,133.87 83.86,133.76 82.75,133.65 81.64,133.53 80.53,133.4 79.43,133.27 78.32,133.14 77.21,133 76.1,132.85 74.99,132.69 73.88,132.53 72.77,132.36 71.66,132.19 70.55,132 69.44,131.81 68.33,131.61 67.22,131.4 66.12,131.18 65.01,130.95 63.9,130.71 62.79,130.45 61.68,130.19 60.57,129.92 59.46,129.63 58.35,129.33 57.24,129.01 56.13,128.68 55.02,128.34 53.91,127.98 52.81,127.61 51.7,127.21 50.59,126.8 49.48,126.37 48.37,125.93 47.26,125.46 46.15,124.97 45.04,124.46 43.93,123.92 42.82,123.36 41.71,122.77 40.6,122.16 39.5,121.52 38.39,120.86 37.28,120.16 36.17,119.43 35.06,118.66 33.95,117.87" fill="#ff1010"/>
<polyline points="33.95,116.5 34.01,116.78 34.06,113.49 34.12,115.9 34.17,117.34 34.23,116.23 34.28,116.75 34.34,119.61 34.39,118.8 34.45,118.59 34.51,113.96 34.56,117.04 34.62,117.2 34.67,117.63 34.73,115.58 34.78,116.91 34.84,114.68 34.89,115.96 34.95,114.84 35,117.26 35.06,116.64 35.12,117.77 35.17,117.45 35.23,119.6 35.28,118.09 35.34,118.63 35.39,118.26 35.45,115.77 35.5,117.1 35.56,115.84 35.62,116.37 35.67,116.33 35.73,116.25 35.78,118.46 35.84,116.6 35.89,118.16 35.95,118.48 36,116.18 36.06,114.91 36.11,119.19 36.17,115.56 36.23,116.82 36.28,119.13 36.34,117.65 36.39,117.56 36.45,117.59 36.5,118.61 36.56,119.91 36.61,118.16 36.67,117.08 36.73,117.22 36.78,117.42 36.84,116.86 36.89,119.73 36.95,118.48 37,118 37.06,117.15 37.11,118.32 37.17,117.87 37.22,118.42 37.28,115.81 37.34,121.62 37.39,118.74 37.45,115.4 37.5,118.46 37.56,121.29 37.61,118.67 37.67,120.82 37.72,119.84 37.78,118.66 37.84,116.68 37.89,118.4 37.95,118.16 38,117.72 38.06,118.86 38.11,120.32 38.17,119.33 38.22,118.78 38.28,119.64 38.33,120.21 38.39,119.82 38.45,121.4 38.5,120.79 38.56,119.56 38.61,119.96 38.67,119.46 38.72,117.65 38.78,119.17 38.83,119.65 38.89,121.23 38.95,121.13 39,119.2 39.06,120.92 39.11,119.2 39.17,121.26 39.22,119.66 39.28,119.98 39.33,118.57 39.39,120.47 39.44,120.48 39.5,119.68 39.56,119.97 39.61,117.79 39.67,120.45 39.72,120.86 39.78,120.6 39.83,119.56 39.89,119.92 39.94,119.33 40,122.17 40.06,116.99 40.11,117.88 40.17,120.44 40.22,122.06 40.28,120.25 40.33,119.93 40.39,123.53 40.44,120.54 40.5,122.58 40.56,120 40.61,118.78 40.67,119.29 40.72,122.74 40.78,118.88 40.83,119.55 40.89,121.29 40.94,120.16 41,118.82 41.05,121.34 41.11,120.95 41.17,121.71 41.22,119.43 41.28,123.92 41.33,119.13 41.39,122.38 41.44,119.86 41.5,123.33 41.55,122.43 41.61,122.01 41.67,120.11 41.72,123.45 41.78,120.48 41.83,122.18 41.89,119.67 41.94,121.8 42,120.75 42.05,121.67 42.11,119.05 42.16,121.98 42.22,121.56 42.28,118.88 42.33,121.48 42.39,120.69 42.44,122.64 42.5,121.4 42.55,124.76 42.61,121.59 42.66,122.63 42.72,123.81 42.78,123.73 42.83,120.31 42.89,121.3 42.94,123.95 43,119.48 43.05,122.9 43.11,122.49 43.16,121.68 43.22,123.58 43.27,124.25 43.33,123.11 43.39,120.54 43.44,120.87 43.5,124.32 43.55,120.59 43.61,122.19 43.66,121.59 43.72,122.23 43.77,121.77 43.83,123.7 43.89,123.6 43.94,123.35 44,122.93 44.05,121.62 44.11,124.13 44.16,120.36 44.22,123.39 44.27,123.36 44.33,121.65 44.38,122.04 44.44,123.11 44.5,124.12 44.55,124.05 44.61,124.89 44.66,121.21 44.72,121.32 44.77,120.29 44.83,122.16 44.88,122.41 44.94,121.87 45,121.63 45.05,123.29 45.11,122.49 45.16,120.09 45.22,125.3 45.27,124.94 45.33,124.37 45.38,122.08 45.44,121.52 45.49,123.61 45.55,122.27 45.61,123.27 45.66,122.82 45.72,123.98 45.77,123.31 45.83,123.31 45.88,121.8 45.94,120.34 45.99,125.83 46.05,122.68 46.11,123.43 46.16,122.15 46.22,122.05 46.27,122.45 46.33,122.44 46.38,124.83 46.44,125.88 46.49,121.35 46.55,122 46.61,124.94 46.66,121.93 46.72,122.8 46.77,127.04 46.83,122.54 46.88,125.11 46.94,122.23 46.99,124.74 47.05,124.85 47.1,125.96 47.16,124.19 47.22,122.55 47.27,124.85 47.33,126.48 47.38,121.1 47.44,121.52 47.49,123.11 47.55,124.79 47.6,125.72 47.66,126.32 47.72,123.38 47.77,122.4 47.83,125.61 47.88,124.2 47.94,124.6 47.99,124.6 48.05,123.6 48.1,121.47 48.16,125.18 48.21,123.2 48.27,122.9 48.33,124.77 48.38,124.61 48.44,126.25 48.49,123 48.55,125.2 48.6,125.39 48.66,124.44 48.71,125.71 48.77,125.98 48.83,125 48.88,122.61 48.94,124.92 48.99,123.95 49.05,126.67 49.1,127.34 49.16,122.27 49.21,125.29 49.27,126.85 49.32,124.94 49.38,124 49.44,127.17 49.49,126.05 49.55,124.53 49.6,126.15 49.66,123.85 49.71,123.65 49.77,124.37 49.82,125.57 49.88,125.08 49.94,125.89 49.99,125.23 50.05,124.65 50.1,125.51 50.16,123.8 50.21,121.63 50.27,125.9 50.32,124.72 50.38,124.09 50.43,124.35 50.49,125.57 50.55,125.92 50.6,123.93 50.66,124.47 50.71,124.65 50.77,126.44 50.82,124.52 50.88,124.32 50.93,125.67 50.99,124.56 51.05,122.52 51.1,128.02 51.16,124.68 51.21,127.1 51.27,127.39 51.32,125.88 51.38,124.84 51.43,125.53 51.49,127.2 51.54,127.59 51.6,126.41 51.66,125.66 51.71,126.82 51.77,127.76 51.82,123.36 51.88,126.9 51.93,125.99 51.99,126.54 52.04,126.61 52.1,125.79 52.16,126.26 52.21,125.04 52.27,127.5 52.32,127.93 52.38,123.29 52.43,126.06 52.49,124.93 52.54,124.4 52.6,125.26 52.66,125.99 52.71,128.16 52.77,128.25 52.82,124.77 52.88,125.19 52.93,125.36 52.99,128.4 53.04,129.06 53.1,127.62 53.15,127.81 53.21,126.01 53.27,127.63 53.32,124.12 53.38,127.13 53.43,127.06 53.49,125.15 53.54,125.89 53.6,127.58 53.65,125.26 53.71,123.78 53.77,128.08 53.82,126.77 53.88,127.91 53.93,129.11 53.99,125.63 54.04,125.56 54.1,125.2 54.15,125.96 54.21,129.3 54.26,126.61 54.32,127.5 54.38,128.21 54.43,128.14 54.49,125.61 54.54,127.07 54.6,124.01 54.65,126.06 54.71,129.32 54.76,125.52 54.82,125.06 54.88,126.73 54.93,128.44 54.99,124.4 55.04,128.62 55.1,126.96 55.15,129.46 55.21,128.59 55.26,129.21 55.32,125.43 55.37,125.33 55.43,127.5 55.49,128.82 55.54,127.07 55.6,126.48 55.65,129.1 55.71,128.62 55.76,127.19 55.82,126.11 55.87,126.98 55.93,126.49 55.99,128.83 56.04,130.54 56.1,126.73 56.15,128.42 56.21,127.36 56.26,127.72 56.32,126.56 56.37,128.29 56.43,125.28 56.48,127.23 56.54,126.56 56.6,126.44 56.65,125.9 56.71,126.78 56.76,129.75 56.82,128.23 56.87,124.84 56.93,126.76 56.98,126.65 57.04,126.8 57.1,128.33 57.15,128.4 57.21,128.37 57.26,125.91 57.32,127.02 57.37,125.09 57.43,126.86 57.48,124.97 57.54,126.95 57.59,129.22 57.65,125.22 57.71,127.16 57.76,126.01 57.82,127.36 57.87,128.12 57.93,127.46 57.98,129.25 58.04,129.36 58.09,128.96 58.15,128.47 58.21,129.63 58.26,127.92 58.32,127.38 58.37,125.03 58.43,125.3 58.48,127.91 58.54,126.64 58.59,128.18 58.65,127.35 58.71,127.95 58.76,128.66 58.82,127.83 58.87,129.99 58.93,127.36 58.98,128.38 59.04,129.49 59.09,128.51 59.15,127.26 59.2,128.98 59.26,127.4 59.32,127.28 59.37,125.94 59.43,129.6 59.48,128.27 59.54,127.42 59.59,126.07 59.65,127.8 59.7,127.13 59.76,130.21 59.82,129.01 59.87,125.92 59.93,128.62 59.98,125.26 60.04,129.27 60.09,128.66 60.15,130.49 60.2,127.42 60.26,127.95 60.31,125.54 60.37,128.12 60.43,128.71 60.48,130.32 60.54,128.5 60.59,127.09 60.65,127.39 60.7,126.73 60.76,127.25 60.81,128.52 60.87,127.64 60.93,128.25 60.98,130.34 61.04,126.15 61.09,128.01 61.15,130 61.2,128.02 61.26,128.17 61.31,127.2 61.37,126.6 61.42,132.82 61.48,127.85 61.54,126.52 61.59,129.96 61.65,131.24 61.7,128.29 61.76,128.23 61.81,128.22 61.87,130.26 61.92,129.38 61.98,128.47 62.04,127.72 62.09,125.73 62.15,128.38 62.2,129.63 62.26,132.08 62.31,127.33 62.37,129.02 62.42,129 62.48,130.23 62.53,127.86 62.59,131.38 62.65,128.75 62.7,128.75 62.76,128.51 62.81,127.13 62.87,129.09 62.92,128.84 62.98,127.79 63.03,131.15 63.09,129.41 63.15,128.92 63.2,127.7 63.26,130.16 63.31,127.94 63.37,128.53 63.42,131.15 63.48,131.15 63.53,131.1 63.59,128.92 63.64,128.84 63.7,128.14 63.76,128.01 63.81,129.94 63.87,127.69 63.92,128.05 63.98,128.55 64.03,128.55 64.09,131.02 64.14,128.74 64.2,130.69 64.26,130.93 64.31,129.77 64.37,129.1 64.42,129.38 64.48,129.77 64.53,130.72 64.59,129.08 64.64,130.38 64.7,131.32 64.76,129.24 64.81,127.36 64.87,129.96 64.92,130.89 64.98,127.49 65.03,127.05 65.09,129.86 65.14,129.75 65.2,129.17 65.25,125.37 65.31,129.31 65.37,128.12 65.42,128.9 65.48,132.06 65.53,131.08 65.59,131.27 65.64,128.96 65.7,129.42 65.75,127.09 65.81,129.97 65.87,129.18 65.92,129.51 65.98,129.44 66.03,126.41 66.09,129.26 66.14,127.61 66.2,127.86 66.25,130.53 66.31,128.74 66.36,130.24 66.42,129.57 66.48,129.51 66.53,129.71 66.59,130.41 66.64,127.59 66.7,130.15 66.75,128.8 66.81,127.45 66.86,128.93 66.92,128.39 66.98,127.89 67.03,128.32 67.09,127.45 67.14,131.86 67.2,127.14 67.25,129.85 67.31,132.34 67.36,130.8 67.42,131.87 67.47,129.96 67.53,132.02 67.59,131.35 67.64,129.55 67.7,129.75 67.75,131.1 67.81,130.32 67.86,130.14 67.92,129.91 67.97,130.03 68.03,130.34 68.09,128.81 68.14,132.3 68.2,130.75 68.25,129.89 68.31,130.65 68.36,130.87 68.42,130.72 68.47,129.82 68.53,128.38 68.58,130.4 68.64,130.52 68.7,129.66 68.75,130.51 68.81,132.88 68.86,129.81 68.92,130.73 68.97,131.01 69.03,129.34 69.08,130.17 69.14,131.03 69.2,133.3 69.25,132.67 69.31,130.25 69.36,130.44 69.42,129.67 69.47,129.98 69.53,130.98 69.58,132.09 69.64,131.86 69.69,130.53 69.75,131.95 69.81,129.3 69.86,132.22 69.92,132.88 69.97,130.66 70.03,132.88 70.08,128.12 70.14,131.8 70.19,130.5 70.25,130.77 70.31,131.59 70.36,132.93 70.42,133.07 70.47,129.26 70.53,129.05 70.58,127.46 70.64,132.55 70.69,129.72 70.75,130.54 70.81,129.34 70.86,131.26 70.92,129.53 70.97,129.3 71.03,129.71 71.08,128.55 71.14,130.83 71.19,128.43 71.25,131.58 71.3,128.27 71.36,134.47 71.42,130.61 71.47,131.76 71.53,130.64 71.58,129.21 71.64,129.66 71.69,130.54 71.75,128.3 71.8,132.76 71.86,131.84 71.92,128.59 71.97,130.26 72.03,133.64 72.08,130.26 72.14,132.41 72.19,128.68 72.25,129.16 72.3,131.54 72.36,128.97 72.41,131.96 72.47,129.51 72.53,130 72.58,130.99 72.64,132.82 72.69,131.23 72.75,134.05 72.8,131.64 72.86,133.45 72.91,129.16 72.97,132.23 73.03,134.29 73.08,130.07 73.14,130.38 73.19,131.62 73.25,127.95 73.3,129.84 73.36,130.84 73.41,131.85 73.47,135.1 73.52,130.29 73.58,129.62 73.64,131.81 73.69,132.97 73.75,131.05 73.8,133.35 73.86,131 73.91,129.94 73.97,128.91 74.02,130.66 74.08,130.77 74.14,130 74.19,129.1 74.25,131.52 74.3,132.8 74.36,132.19 74.41,132.86 74.47,132.35 74.52,131.28 74.58,130.64 74.63,130.91 74.69,131.04 74.75,131.64 74.8,130.56 74.86,129.92 74.91,130.1 74.97,129.07 75.02,131.59 75.08,131.54 75.13,128.82 75.19,130.92 75.25,130.63 75.3,131.69 75.36,129.87 75.41,131.8 75.47,132.66 75.52,131.34 75.58,131.88 75.63,130.1 75.69,131.8 75.74,131.11 75.8,131.59 75.86,130.82 75.91,132.19 75.97,129.76 76.02,133.32 76.08,131.87 76.13,132.33 76.19,130.43 76.24,131.29 76.3,130.68 76.36,131.83 76.41,132.38 76.47,132.95 76.52,131.86 76.58,132.15 76.63,131.01 76.69,130.91 76.74,130.05 76.8,131.57 76.86,132.48 76.91,132.93 76.97,131.36 77.02,130.95 77.08,128.73 77.13,131.21 77.19,129.01 77.24,128.86 77.3,132.96 77.35,129.8 77.41,129.91 77.47,129.63 77.52,131.53 77.58,130.19 77.63,132.21 77.69,131.64 77.74,131.52 77.8,129.06 77.85,131.86 77.91,130.23 77.97,131.48 78.02,132.58 78.08,131.25 78.13,130.67 78.19,132.6 78.24,130.72 78.3,132.62 78.35,132.85 78.41,131.32 78.46,131.97 78.52,133.02 78.58,133.94 78.63,131.63 78.69,131.32 78.74,132.32 78.8,131.42 78.85,133.83 78.91,131.14 78.96,131.12 79.02,131.32 79.08,132.57 79.13,131.61 79.19,131.54 79.24,130.23 79.3,131.35 79.35,131.39 79.41,132.77 79.46,130.55 79.52,130.12 79.57,132.46 79.63,130.88 79.69,131.35 79.74,131.86 79.8,133.6 79.85,129.34 79.91,134.43 79.96,131.39 80.02,132.35 80.07,130.23 80.13,132.43 80.19,131.79 80.24,131 80.3,131.22 80.35,132.59 80.41,130.92 80.46,131.33 80.52,130.5 80.57,132.6 80.63,131.96 80.68,132.45 80.74,133.08 80.8,131.56 80.85,131.35 80.91,129.94 80.96,132.39 81.02,131.4 81.07,130.35 81.13,132.11 81.18,131.87 81.24,131.78 81.3,132.94 81.35,133.36 81.41,130.42 81.46,131.75 81.52,132.1 81.57,133.74 81.63,131.84 81.68,130.37 81.74,133.63 81.79,133.27 81.85,130.48 81.91,130.04 81.96,129.87 82.02,132.82 82.07,131.22 82.13,133.11 82.18,131.34 82.24,132.58 82.29,131.8 82.35,130.21 82.41,131.62 82.46,132.43 82.52,132.02 82.57,131.74 82.63,132.83 82.68,131.83 82.74,131.29 82.79,129.96 82.85,135.01 82.91,133.8 82.96,133.87 83.02,130.93 83.07,128.76 83.13,131.9 83.18,132 83.24,130.59 83.29,135.59 83.35,132.44 83.4,136.54 83.46,131.98 83.52,132.91 83.57,132.89 83.63,131.74 83.68,133.04 83.74,130.68 83.79,132.24 83.85,131.71 83.9,128.71 83.96,132.87 84.02,130.97 84.07,133.41 84.13,130.53 84.18,130.93 84.24,132.08 84.29,130.9 84.35,130.05 84.4,130.38 84.46,132.3 84.51,132.38 84.57,130.77 84.63,134.36 84.68,133.16 84.74,131.65 84.79,131.54 84.85,129.75 84.9,129.9 84.96,131.9 85.01,131.74 85.07,134.19 85.13,132.62 85.18,132.01 85.24,132.69 85.29,132.3 85.35,131.54 85.4,133.71 85.46,133.18 85.51,134.87 85.57,130.82 85.62,133.87 85.68,134.78 85.74,131.35 85.79,132.72 85.85,131.09 85.9,132.95 85.96,129.49 86.01,131.46 86.07,132.24 86.12,132.3 86.18,132.75 86.24,131.34 86.29,129.7 86.35,133.06 86.4,133.99 86.46,131.66 86.51,131.01 86.57,134.56 86.62,133.46 86.68,133.89 86.73,131.73 86.79,131.82 86.85,133.54 86.9,134.09 86.96,131.59 87.01,135.38 87.07,131.65 87.12,132.76 87.18,129.89 87.23,131.18 87.29,133.36 87.35,132.94 87.4,132.95 87.46,133.58 87.51,132.47 87.57,131.25 87.62,134.67 87.68,132.91 87.73,130.53 87.79,131.58 87.84,133.73 87.9,133.73 87.96,133.8 88.01,134.84 88.07,131.04 88.12,132.54 88.18,133.6 88.23,134.62 88.29,133.18 88.34,133.36 88.4,130.28 88.46,133.29 88.51,132.5 88.57,131.19 88.62,131.75 88.68,132.93 88.73,135.69 88.79,130.75 88.84,131.87 88.9,133.29 88.96,132.82 89.01,134.02 89.07,133.95 89.12,134.76 89.18,132.03 89.23,132.01 89.29,132.49 89.34,131.66 89.4,132 89.45,132.57 89.51,133.96 89.57,131.94 89.62,131.12 89.68,131.89 89.73,131.04 89.79,133.42 89.84,134.12 89.9,131.05 89.95,133.58 90.01,132.45 90.07,133.05 90.12,132.76 90.18,133.17 90.23,133.54 90.29,135.26 90.34,130.19 90.4,132.53 90.45,135.47 90.51,134.07 90.56,134.38 90.62,133.85 90.68,136.34 90.73,132.05 90.79,130.59 90.84,133.19 90.9,131.83 90.95,132.03 91.01,134.57 91.06,131.19 91.12,135.19 91.18,133.66 91.23,133.37 91.29,131.16 91.34,132.72 91.4,133.06 91.45,134 91.51,132.77 91.56,132.84 91.62,131.9 91.67,130.99 91.73,131.9 91.79,132.89 91.84,133.13 91.9,130.73 91.95,132.65 92.01,132.96 92.06,130.47 92.12,130.79 92.17,132.17 92.23,133.1 92.29,133.83 92.34,131.49 92.4,133.58 92.45,131.65 92.51,134.04 92.56,132.83 92.62,132.43 92.67,132.78 92.73,132.67 92.78,132.47 92.84,134.53 92.9,134.52 92.95,133.2 93.01,130.53 93.06,133.18 93.12,134.28 93.17,133.92 93.23,132.97 93.28,131.4 93.34,133.8 93.4,132.26 93.45,132.78 93.51,133.53 93.56,134.34 93.62,133.26 93.67,134.04 93.73,132.32 93.78,135.47 93.84,131.52 93.89,132.03 93.95,132.28 94.01,131.02 94.06,132.25 94.12,135.42 94.17,133.01 94.23,132.47 94.28,134.03 94.34,134.64 94.39,132.51 94.45,132.4 94.51,133.69 94.56,133.44 94.62,133.81 94.67,133.89 94.73,133.2 94.78,131.66 94.84,135.33 94.89,133.6 94.95,130.93 95.01,132.7 95.06,132.93 95.12,132 95.17,134.52 95.23,134.81 95.28,135.42 95.34,135.15 95.39,132.82 95.45,132.01 95.5,133.74 95.56,134.1 95.62,132.63 95.67,132.34 95.73,132.83 95.78,135.79 95.84,133.94 95.89,136.65 95.95,132.87 96,134.36 96.06,134.1 96.12,131.15 96.17,131.41 96.23,132.56 96.28,132.84 96.34,132.99 96.39,134.02 96.45,133.3 96.5,130.62 96.56,134.43 96.61,134.14 96.67,133.02 96.73,132.03 96.78,132.11 96.84,134.57 96.89,133.43 96.95,133.62 97,134.94 97.06,133.16 97.11,133.92 97.17,132.02 97.23,132.68 97.28,134.34 97.34,133.17 97.39,133.77 97.45,134.15 97.5,133.95 97.56,131.84 97.61,133.86 97.67,135.64 97.72,134.36 97.78,132.21 97.84,130.38 97.89,134.75 97.95,133.8 98,133.77 98.06,135.24 98.11,132.78 98.17,133.4 98.22,132.95 98.28,130.28 98.34,133.7 98.39,132.26 98.45,132.21 98.5,134.21 98.56,134.16 98.61,131.23 98.67,132.38 98.72,133.16 98.78,134.85 98.83,132.16 98.89,132.65 98.95,130.38 99,131.37 99.06,132.28 99.11,133.02 99.17,133.3 99.22,134.14 99.28,132.97 99.33,133.06 99.39,132.51 99.45,131.92 99.5,132.98 99.56,134.14 99.61,132.31 99.67,131.29 99.72,134.55 99.78,132.84 99.83,132.67 99.89,132.69 99.94,132.74 100,133.55 100.06,133.57 100.11,131.14 100.17,131.08 100.22,135.35 100.28,136.9 100.33,132.85 100.39,134.37 100.44,134.15 100.5,135.63" fill="none" stroke="#ff1010" stroke-width="0.6"/>
<line x1="34.15" y1="136.2" x2="100.5" y2="136.2" stroke="#8a8a8a" stroke-width="1" stroke-dasharray="2.6 2.6"/>
<path d="M33.55 74.8V145.25H100.5" fill="none" stroke="#000" stroke-width="1.15"/>
<text x="31" y="89.3" font-size="7" font-family="Liberation Sans, sans-serif" font-weight="bold" text-anchor="end" >1</text>
<text x="32.2" y="118.7" font-size="7" font-family="Liberation Sans, sans-serif" font-weight="bold" text-anchor="end" >0.5</text>
<text x="31.8" y="148" font-size="7" font-family="Liberation Sans, sans-serif" font-weight="bold" text-anchor="end" >0</text>
<text x="33.8" y="153.9" font-size="7" font-family="Liberation Sans, sans-serif" font-weight="bold" text-anchor="middle" >0</text>
<text x="100.7" y="153.9" font-size="7" font-family="Liberation Sans, sans-serif" font-weight="bold" text-anchor="middle" >50000</text>
<text x="51.1" y="162.6" font-size="9.8" font-family="Liberation Serif, serif" textLength="31.8" lengthAdjust="spacingAndGlyphs"><tspan font-weight="bold" font-style="italic">Time</tspan>[<tspan font-weight="bold" font-style="italic">s</tspan>]</text>
<g transform="translate(17.9,124.9) rotate(-90)"><text x="0" y="0" font-size="9.5" font-family="Liberation Serif, serif" font-style="italic" textLength="4.0" lengthAdjust="spacingAndGlyphs">w</text><text x="4.3" y="0.8" font-size="5.6" font-family="Liberation Serif, serif" font-style="italic" textLength="12.8" lengthAdjust="spacingAndGlyphs">STDP</text><text x="20.9" y="-0.3" font-size="6.8" font-family="Liberation Serif, serif" textLength="8.8" lengthAdjust="spacingAndGlyphs">[1]</text></g>
<rect x="48.8" y="77.55" width="49.1" height="25.95" fill="#fff" stroke="#000" stroke-width="1.15"/>
<line x1="52.4" y1="84.2" x2="69.6" y2="84.2" stroke="#ff1010" stroke-width="0.8" />
<line x1="52.4" y1="96.6" x2="69.6" y2="96.6" stroke="#0c2b5e" stroke-width="0.8" />
<text x="71.9" y="86" font-size="7.2" font-family="Liberation Sans, sans-serif" font-weight="bold" >w</text>
<text x="76.7" y="89.7" font-size="5.3" font-family="Liberation Sans, sans-serif" font-weight="bold" textLength="18.6" lengthAdjust="spacingAndGlyphs" >STDP,1</text>
<text x="71.9" y="98" font-size="7.2" font-family="Liberation Sans, sans-serif" font-weight="bold" >w</text>
<text x="76.7" y="101.3" font-size="5.3" font-family="Liberation Sans, sans-serif" font-weight="bold" textLength="18.6" lengthAdjust="spacingAndGlyphs" >STDP,2</text>
<polyline points="156.6,129.5 157.25,126.16 157.9,121.7 158.65,117.71 159.4,115.5 160.45,112.46 161.5,110.9 162,110.8 162.5,108.5 163.3,108.36 164.1,110.1 164.85,113.2 165.6,114.8 166.4,112.81 167.2,111.6 168,109.85 168.8,109.3 169.55,109.51 170.3,110.9 171.1,109.63 171.9,108.5 172.65,111.23 173.4,111.6 174.2,108.06 175,106.2 175.75,108.6 176.5,109.3 177.3,108.47 178.1,108.5 178.85,109.26 179.6,111.6 180.4,110.29 181.2,107.8 181.95,107.02 182.7,107 183.5,107.8 184.3,110.1 185.05,111.05 185.8,112.4 186.6,111.62 187.4,109.3 188.15,112.12 188.9,113.2 189.7,112.23 190.5,110.9 191.25,110.47 192,112.4 192.8,111.88 193.6,110.1 194.35,111.91 195.1,113.2 195.9,113.01 196.7,110.9 197.5,112.33 198.3,111.6 199.05,112.78 199.8,114.8 200.6,115.99 201.4,115.5 202.15,117.07 202.9,117.1 203.7,114.59 204.5,113.2 205.25,110.18 206,107.8 206.8,108.25 207.6,109.3 208.35,110.5 209.1,112.4 209.9,111.36 210.7,110.9 211.45,110.31 212.2,111.6 213,110.2 213.8,110.1 214.55,111.48 215.3,110.9" fill="none" stroke="#0c2b5e" stroke-width="1.5" stroke-linejoin="round"/>
<polyline points="156.5,129.5 156.95,130.91 157.4,132.6 158.05,134.77 158.7,136.5 159.85,136.72 161,135.7 162.15,136.51 163.3,136.5 164.45,135.84 165.6,136 166.8,137.67 168,138 169.15,137.99 170.3,137 171.45,137.54 172.6,136.5 173.8,137.26 175,137.3 176.15,138.31 177.3,138.5 178.45,138 179.6,136.5 180.8,136.51 182,137.3 183.15,136.9 184.3,136 185.45,136.46 186.6,137.3 187.75,137.19 188.9,136 190.1,135.91 191.3,137 192.45,136.41 193.6,135.7 194.75,135.84 195.9,136.5 197.1,136.46 198.3,135.4 199.45,135.7 200.6,136.5 201.75,136.8 202.9,136 204.05,137.21 205.2,137.3 206.4,137.51 207.6,136.5 208.75,135.12 209.9,134.9 211.05,136 212.2,135.7 213.4,136.74 214.6,137 215.35,137.43 216.1,137.3" fill="none" stroke="#dd1a1a" stroke-width="1.35" stroke-linejoin="round"/>
<path d="M156.5 74.7V146.5H215.7" fill="none" stroke="#000" stroke-width="1.15"/>
<text x="154.8" y="92" font-size="7" font-family="Liberation Sans, sans-serif" font-weight="bold" text-anchor="end" >0.06</text>
<text x="154.8" y="111.5" font-size="7" font-family="Liberation Sans, sans-serif" font-weight="bold" text-anchor="end" >0.04</text>
<text x="154.8" y="130.8" font-size="7" font-family="Liberation Sans, sans-serif" font-weight="bold" text-anchor="end" >0.02</text>
<text x="154.6" y="149.3" font-size="7" font-family="Liberation Sans, sans-serif" font-weight="bold" text-anchor="end" >0</text>
<text x="156.3" y="155.6" font-size="7" font-family="Liberation Sans, sans-serif" font-weight="bold" text-anchor="middle" >0</text>
<text x="184.8" y="155.6" font-size="7" font-family="Liberation Sans, sans-serif" font-weight="bold" text-anchor="middle" >100</text>
<text x="213.1" y="155.6" font-size="7" font-family="Liberation Sans, sans-serif" font-weight="bold" text-anchor="middle" >200</text>
<text x="169.7" y="164.5" font-size="9.8" font-family="Liberation Serif, serif" textLength="31.7" lengthAdjust="spacingAndGlyphs"><tspan font-weight="bold" font-style="italic">Time</tspan>[<tspan font-weight="bold" font-style="italic">s</tspan>]</text>
<g transform="translate(135.6,111) rotate(-90)"><text x="0" y="0" font-size="9.5" font-family="Liberation Serif, serif" font-style="italic" text-anchor="middle" textLength="43.5" lengthAdjust="spacingAndGlyphs">5-HT[μM]</text></g>
<rect x="163.2" y="77.6" width="50.2" height="25.9" fill="#fff" stroke="#000" stroke-width="1.15"/>
<line x1="166.6" y1="84.8" x2="184.5" y2="84.8" stroke="#ff1010" stroke-width="0.8" />
<line x1="166.6" y1="96.9" x2="184.5" y2="96.9" stroke="#0c2b5e" stroke-width="0.8" />
<text x="186.8" y="87.6" font-size="7.2" font-family="Liberation Sans, sans-serif" font-weight="bold" textLength="21.8" lengthAdjust="spacingAndGlyphs" stroke="#000" stroke-width="0.25">[5–HT]</text>
<text x="208.9" y="89.6" font-size="4.6" font-family="Liberation Sans, sans-serif" font-weight="bold" >1</text>
<text x="186.8" y="98.9" font-size="7.2" font-family="Liberation Sans, sans-serif" font-weight="bold" textLength="21.8" lengthAdjust="spacingAndGlyphs" stroke="#000" stroke-width="0.25">[5–HT]</text>
<text x="208.9" y="100.9" font-size="4.6" font-family="Liberation Sans, sans-serif" font-weight="bold" >2</text>
<line x1="275.55" y1="138.25" x2="434.2" y2="53.1" stroke="#c8c8c8" stroke-width="0.9" stroke-dasharray="0.9 1.6"/>
<line x1="275.85" y1="134" x2="434.2" y2="53.6" stroke="#1b2a55" stroke-width="1.05" stroke-dasharray="3.4 3.6"/>
<circle cx="283.48" cy="129.3" r="1.75" fill="#c8181c" stroke="#420606" stroke-width="0.7"/>
<circle cx="291.42" cy="126.1" r="1.75" fill="#c8181c" stroke="#420606" stroke-width="0.7"/>
<circle cx="299.35" cy="122.7" r="1.75" fill="#c8181c" stroke="#420606" stroke-width="0.7"/>
<circle cx="307.28" cy="119" r="1.75" fill="#c8181c" stroke="#420606" stroke-width="0.7"/>
<circle cx="315.21" cy="114.9" r="1.75" fill="#c8181c" stroke="#420606" stroke-width="0.7"/>
<circle cx="323.15" cy="110.7" r="1.75" fill="#c8181c" stroke="#420606" stroke-width="0.7"/>
<circle cx="331.08" cy="106.6" r="1.75" fill="#c8181c" stroke="#420606" stroke-width="0.7"/>
<circle cx="339.01" cy="102.2" r="1.75" fill="#c8181c" stroke="#420606" stroke-width="0.7"/>
<circle cx="346.94" cy="98" r="1.75" fill="#c8181c" stroke="#420606" stroke-width="0.7"/>
<circle cx="354.88" cy="94.1" r="1.75" fill="#c8181c" stroke="#420606" stroke-width="0.7"/>
<circle cx="362.81" cy="89.7" r="1.75" fill="#c8181c" stroke="#420606" stroke-width="0.7"/>
<circle cx="370.74" cy="85.5" r="1.75" fill="#c8181c" stroke="#420606" stroke-width="0.7"/>
<circle cx="378.67" cy="81.7" r="1.75" fill="#c8181c" stroke="#420606" stroke-width="0.7"/>
<circle cx="386.61" cy="77.6" r="1.75" fill="#c8181c" stroke="#420606" stroke-width="0.7"/>
<circle cx="394.54" cy="73" r="1.75" fill="#c8181c" stroke="#420606" stroke-width="0.7"/>
<circle cx="402.47" cy="69" r="1.75" fill="#c8181c" stroke="#420606" stroke-width="0.7"/>
<circle cx="410.4" cy="65.3" r="1.75" fill="#c8181c" stroke="#420606" stroke-width="0.7"/>
<circle cx="418.34" cy="60.9" r="1.75" fill="#c8181c" stroke="#420606" stroke-width="0.7"/>
<circle cx="426.27" cy="56.1" r="1.75" fill="#c8181c" stroke="#420606" stroke-width="0.7"/>
<path d="M275.55 10.2V138.25H434.2" fill="none" stroke="#000" stroke-width="1.15"/>
<line x1="501.7" y1="138.3" x2="663.8" y2="52.7" stroke="#c8c8c8" stroke-width="0.9" stroke-dasharray="0.9 1.6"/>
<line x1="502" y1="135.4" x2="663.8" y2="56.2" stroke="#1b2a55" stroke-width="1.05" stroke-dasharray="3.4 3.6"/>
<path d="M542.1 114.3V119.5M540.9 114.3H543.3M540.9 119.5H543.3" stroke="#5866d8" stroke-width="0.8" fill="none"/>
<path d="M558.4 109.3V114.3M557.2 109.3H559.6M557.2 114.3H559.6" stroke="#5866d8" stroke-width="0.8" fill="none"/>
<path d="M566.5 104.6V109.2M565.3 104.6H567.7M565.3 109.2H567.7" stroke="#5866d8" stroke-width="0.8" fill="none"/>
<path d="M574.7 101.8V107.4M573.5 101.8H575.9M573.5 107.4H575.9" stroke="#5866d8" stroke-width="0.8" fill="none"/>
<path d="M582.7 94V101.3M581.5 94H583.9M581.5 101.3H583.9" stroke="#5866d8" stroke-width="0.8" fill="none"/>
<path d="M590.7 88V93.5M589.5 88H591.9M589.5 93.5H591.9" stroke="#5866d8" stroke-width="0.8" fill="none"/>
<path d="M598.8 88.6V95.2M597.6 88.6H600M597.6 95.2H600" stroke="#5866d8" stroke-width="0.8" fill="none"/>
<path d="M606.8 77V88.8M605.6 77H608M605.6 88.8H608" stroke="#5866d8" stroke-width="0.8" fill="none"/>
<path d="M615 77.5V87.5M613.8 77.5H616.2M613.8 87.5H616.2" stroke="#5866d8" stroke-width="0.8" fill="none"/>
<path d="M623.3 77.3V83.3M622.1 77.3H624.5M622.1 83.3H624.5" stroke="#5866d8" stroke-width="0.8" fill="none"/>
<path d="M631.4 65.9V80.6M630.2 65.9H632.6M630.2 80.6H632.6" stroke="#5866d8" stroke-width="0.8" fill="none"/>
<path d="M639.4 65.4V74.2M638.2 65.4H640.6M638.2 74.2H640.6" stroke="#5866d8" stroke-width="0.8" fill="none"/>
<path d="M647.4 52V70.6M646.2 52H648.6M646.2 70.6H648.6" stroke="#5866d8" stroke-width="0.8" fill="none"/>
<path d="M655.7 45.2V58.2M654.5 45.2H656.9M654.5 58.2H656.9" stroke="#5866d8" stroke-width="0.8" fill="none"/>
<circle cx="509.7" cy="129" r="1.75" fill="#c8181c" stroke="#420606" stroke-width="0.7"/>
<circle cx="518" cy="124.4" r="1.75" fill="#c8181c" stroke="#420606" stroke-width="0.7"/>
<circle cx="526" cy="121.9" r="1.75" fill="#c8181c" stroke="#420606" stroke-width="0.7"/>
<circle cx="534" cy="122.8" r="1.75" fill="#c8181c" stroke="#420606" stroke-width="0.7"/>
<circle cx="542.1" cy="117" r="1.75" fill="#c8181c" stroke="#420606" stroke-width="0.7"/>
<circle cx="550.3" cy="113.6" r="1.75" fill="#c8181c" stroke="#420606" stroke-width="0.7"/>
<circle cx="558.4" cy="111.6" r="1.75" fill="#c8181c" stroke="#420606" stroke-width="0.7"/>
<circle cx="566.5" cy="106.4" r="1.75" fill="#c8181c" stroke="#420606" stroke-width="0.7"/>
<circle cx="574.7" cy="104.3" r="1.75" fill="#c8181c" stroke="#420606" stroke-width="0.7"/>
<circle cx="582.7" cy="97.4" r="1.75" fill="#c8181c" stroke="#420606" stroke-width="0.7"/>
<circle cx="590.7" cy="90.8" r="1.75" fill="#c8181c" stroke="#420606" stroke-width="0.7"/>
<circle cx="598.8" cy="91.9" r="1.75" fill="#c8181c" stroke="#420606" stroke-width="0.7"/>
<circle cx="606.8" cy="82.5" r="1.75" fill="#c8181c" stroke="#420606" stroke-width="0.7"/>
<circle cx="615" cy="81.9" r="1.75" fill="#c8181c" stroke="#420606" stroke-width="0.7"/>
<circle cx="623.3" cy="80.3" r="1.75" fill="#c8181c" stroke="#420606" stroke-width="0.7"/>
<circle cx="631.4" cy="73.4" r="1.75" fill="#c8181c" stroke="#420606" stroke-width="0.7"/>
<circle cx="639.4" cy="69.5" r="1.75" fill="#c8181c" stroke="#420606" stroke-width="0.7"/>
<circle cx="647.4" cy="61.2" r="1.75" fill="#c8181c" stroke="#420606" stroke-width="0.7"/>
<circle cx="655.7" cy="51.5" r="1.75" fill="#c8181c" stroke="#420606" stroke-width="0.7"/>
<path d="M501.7 10.2V138.3H663.8" fill="none" stroke="#000" stroke-width="1.15"/>
<text x="274.05" y="12.7" font-size="7" font-family="Liberation Sans, sans-serif" font-weight="bold" text-anchor="end" >1.5</text>
<text x="274.05" y="55" font-size="7" font-family="Liberation Sans, sans-serif" font-weight="bold" text-anchor="end" >1</text>
<text x="274.05" y="97.8" font-size="7" font-family="Liberation Sans, sans-serif" font-weight="bold" text-anchor="end" >0.5</text>
<text x="274.05" y="140.7" font-size="7" font-family="Liberation Sans, sans-serif" font-weight="bold" text-anchor="end" >0</text>
<text x="275.55" y="147.3" font-size="7" font-family="Liberation Sans, sans-serif" font-weight="bold" text-anchor="middle" >0</text>
<text x="307.28" y="147.3" font-size="7" font-family="Liberation Sans, sans-serif" font-weight="bold" text-anchor="middle" >0.2</text>
<text x="339.01" y="147.3" font-size="7" font-family="Liberation Sans, sans-serif" font-weight="bold" text-anchor="middle" >0.4</text>
<text x="370.74" y="147.3" font-size="7" font-family="Liberation Sans, sans-serif" font-weight="bold" text-anchor="middle" >0.6</text>
<text x="402.47" y="147.3" font-size="7" font-family="Liberation Sans, sans-serif" font-weight="bold" text-anchor="middle" >0.8</text>
<text x="434.2" y="147.3" font-size="7" font-family="Liberation Sans, sans-serif" font-weight="bold" text-anchor="middle" >1</text>
<text x="334.98" y="159.8" font-size="10" font-family="Liberation Serif, serif">&lt;</text>
<line x1="344.77" y1="157.4" x2="353.68" y2="157.4" stroke="#000" stroke-width="0.6"/>
<text x="344.57" y="154.6" font-size="10.5" font-family="Liberation Serif, serif">a<tspan font-size="6.8" dy="1.2">1</tspan></text>
<text x="344.57" y="164.4" font-size="10.5" font-family="Liberation Serif, serif">a<tspan font-size="6.8" dy="1.2">2</tspan></text>
<text x="356.88" y="159.8" font-size="10" font-family="Liberation Serif, serif">&gt;</text>
<text x="366.07" y="160.4" font-size="10" font-family="Liberation Serif, serif" textLength="8.3" lengthAdjust="spacingAndGlyphs">[1]</text>
<text x="500.2" y="12.7" font-size="7" font-family="Liberation Sans, sans-serif" font-weight="bold" text-anchor="end" >1.5</text>
<text x="500.2" y="55" font-size="7" font-family="Liberation Sans, sans-serif" font-weight="bold" text-anchor="end" >1</text>
<text x="500.2" y="98" font-size="7" font-family="Liberation Sans, sans-serif" font-weight="bold" text-anchor="end" >0.5</text>
<text x="500.2" y="140.7" font-size="7" font-family="Liberation Sans, sans-serif" font-weight="bold" text-anchor="end" >0</text>
<text x="501.7" y="147.3" font-size="7" font-family="Liberation Sans, sans-serif" font-weight="bold" text-anchor="middle" >0</text>
<text x="534.12" y="147.3" font-size="7" font-family="Liberation Sans, sans-serif" font-weight="bold" text-anchor="middle" >0.2</text>
<text x="566.54" y="147.3" font-size="7" font-family="Liberation Sans, sans-serif" font-weight="bold" text-anchor="middle" >0.4</text>
<text x="598.96" y="147.3" font-size="7" font-family="Liberation Sans, sans-serif" font-weight="bold" text-anchor="middle" >0.6</text>
<text x="631.38" y="147.3" font-size="7" font-family="Liberation Sans, sans-serif" font-weight="bold" text-anchor="middle" >0.8</text>
<text x="663.8" y="147.3" font-size="7" font-family="Liberation Sans, sans-serif" font-weight="bold" text-anchor="middle" >1</text>
<text x="562.85" y="159.8" font-size="10" font-family="Liberation Serif, serif">&lt;</text>
<line x1="572.65" y1="157.4" x2="581.55" y2="157.4" stroke="#000" stroke-width="0.6"/>
<text x="572.45" y="154.6" font-size="10.5" font-family="Liberation Serif, serif">a<tspan font-size="6.8" dy="1.2">1</tspan></text>
<text x="572.45" y="164.4" font-size="10.5" font-family="Liberation Serif, serif">a<tspan font-size="6.8" dy="1.2">2</tspan></text>
<text x="584.75" y="159.8" font-size="10" font-family="Liberation Serif, serif">&gt;</text>
<text x="593.95" y="160.4" font-size="10" font-family="Liberation Serif, serif" textLength="8.3" lengthAdjust="spacingAndGlyphs">[1]</text>
<g transform="translate(250.3,80.7) rotate(-90)"><line x1="-15.5" y1="0" x2="15.5" y2="0" stroke="#222" stroke-width="0.65"/><text x="0" y="-2.3" font-size="8.8" font-family="Liberation Serif, serif" text-anchor="middle" textLength="29.5" lengthAdjust="spacingAndGlyphs">w<tspan font-size="6.3" dy="0.9">STDP,1</tspan></text><text x="0" y="7.9" font-size="8.8" font-family="Liberation Serif, serif" text-anchor="middle" textLength="29.5" lengthAdjust="spacingAndGlyphs">w<tspan font-size="6.3" dy="0.9">STDP,2</tspan></text><text x="-21.6" y="3.0" font-size="10" font-family="Liberation Serif, serif" text-anchor="middle">&lt;</text><text x="22.5" y="3.0" font-size="10" font-family="Liberation Serif, serif" text-anchor="middle">&gt;</text><text x="32.3" y="3.6" font-size="10" font-family="Liberation Serif, serif" text-anchor="middle" textLength="7.3" lengthAdjust="spacingAndGlyphs">[1]</text></g>
<g transform="translate(477.2,79.65) rotate(-90)"><line x1="-12.45" y1="0" x2="12.45" y2="0" stroke="#222" stroke-width="0.65"/><text x="0" y="-2.3" font-size="8.8" font-family="Liberation Serif, serif" text-anchor="middle" textLength="23.5" lengthAdjust="spacingAndGlyphs">w<tspan font-size="6.3" dy="0.9">NM,1</tspan></text><text x="0" y="7.9" font-size="8.8" font-family="Liberation Serif, serif" text-anchor="middle" textLength="23.5" lengthAdjust="spacingAndGlyphs">w<tspan font-size="6.3" dy="0.9">NM,2</tspan></text><text x="-17.5" y="3.0" font-size="10" font-family="Liberation Serif, serif" text-anchor="middle">&lt;</text><text x="18" y="3.0" font-size="10" font-family="Liberation Serif, serif" text-anchor="middle">&gt;</text><text x="29.2" y="3.6" font-size="10" font-family="Liberation Serif, serif" text-anchor="middle" textLength="7.3" lengthAdjust="spacingAndGlyphs">[1]</text></g>
<rect x="365" y="13.1" width="66.55" height="29.25" fill="#fff" stroke="#000" stroke-width="1.2"/>
<circle cx="377.3" cy="18.8" r="1.75" fill="#c8181c" stroke="#420606" stroke-width="0.7"/>
<line x1="368.2" y1="27.3" x2="386" y2="27.3" stroke="#1b2a55" stroke-width="1.05" stroke-dasharray="3.7 3.3"/>
<line x1="368.3" y1="37.4" x2="385.8" y2="37.4" stroke="#c8c8c8" stroke-width="0.9" stroke-dasharray="0.9 1.6"/>
<text x="388.7" y="21.6" font-size="7" font-family="Liberation Sans, sans-serif" font-weight="bold" textLength="14.8" lengthAdjust="spacingAndGlyphs" >Data</text>
<text x="388.7" y="30.3" font-size="7" font-family="Liberation Sans, sans-serif" font-weight="bold" textLength="30" lengthAdjust="spacingAndGlyphs" >Linear fit</text>
<text x="388.7" y="39.7" font-size="7" font-family="Liberation Sans, sans-serif" font-weight="bold" textLength="40.3" lengthAdjust="spacingAndGlyphs" >Expectation</text>
<rect x="594.4" y="13.1" width="66.55" height="29.25" fill="#fff" stroke="#000" stroke-width="1.2"/>
<circle cx="606.7" cy="18.8" r="1.75" fill="#c8181c" stroke="#420606" stroke-width="0.7"/>
<line x1="597.6" y1="27.3" x2="615.4" y2="27.3" stroke="#1b2a55" stroke-width="1.05" stroke-dasharray="3.7 3.3"/>
<line x1="597.7" y1="37.4" x2="615.2" y2="37.4" stroke="#c8c8c8" stroke-width="0.9" stroke-dasharray="0.9 1.6"/>
<text x="618.1" y="21.6" font-size="7" font-family="Liberation Sans, sans-serif" font-weight="bold" textLength="14.8" lengthAdjust="spacingAndGlyphs" >Data</text>
<text x="618.1" y="30.3" font-size="7" font-family="Liberation Sans, sans-serif" font-weight="bold" textLength="30" lengthAdjust="spacingAndGlyphs" >Linear fit</text>
<text x="618.1" y="39.7" font-size="7" font-family="Liberation Sans, sans-serif" font-weight="bold" textLength="40.3" lengthAdjust="spacingAndGlyphs" >Expectation</text>
<line x1="33.9" y1="210.3" x2="204.9" y2="210.3" stroke="#b8b8b8" stroke-width="0.9" stroke-dasharray="0.9 2.1"/>
<polyline points="33.9,211.2 52.9,209.6 71.9,210.9 90.9,210.6 109.9,211.5 128.9,213.3 147.9,215.2 166.9,217.6 185.9,217.6 204.9,231" fill="none" stroke="#d83c3c" stroke-width="0.95"/>
<circle cx="33.9" cy="211.2" r="1.95" fill="#c01420" stroke="#3a0404" stroke-width="0.6"/>
<circle cx="52.9" cy="209.6" r="1.95" fill="#c01420" stroke="#3a0404" stroke-width="0.6"/>
<circle cx="71.9" cy="210.9" r="1.95" fill="#c01420" stroke="#3a0404" stroke-width="0.6"/>
<circle cx="90.9" cy="210.6" r="1.95" fill="#c01420" stroke="#3a0404" stroke-width="0.6"/>
<circle cx="109.9" cy="211.5" r="1.95" fill="#c01420" stroke="#3a0404" stroke-width="0.6"/>
<circle cx="128.9" cy="213.3" r="1.95" fill="#c01420" stroke="#3a0404" stroke-width="0.6"/>
<circle cx="147.9" cy="215.2" r="1.95" fill="#c01420" stroke="#3a0404" stroke-width="0.6"/>
<circle cx="166.9" cy="217.6" r="1.95" fill="#c01420" stroke="#3a0404" stroke-width="0.6"/>
<circle cx="185.9" cy="217.6" r="1.95" fill="#c01420" stroke="#3a0404" stroke-width="0.6"/>
<circle cx="204.9" cy="231" r="1.95" fill="#c01420" stroke="#3a0404" stroke-width="0.6"/>
<polyline points="33.9,213.8 52.9,214.3 71.9,211 90.9,214 109.9,214.3 128.9,217.4 147.9,215 166.9,228.6 185.9,228.6 204.9,244.6" fill="none" stroke="#1c2744" stroke-width="1.0"/>
<path d="M31.3 211.85L36.5 211.85L33.9 216.27Z" fill="#0a1530" stroke="#0a1530" stroke-width="0.5"/>
<path d="M50.3 212.35L55.5 212.35L52.9 216.77Z" fill="#0a1530" stroke="#0a1530" stroke-width="0.5"/>
<path d="M69.3 209.05L74.5 209.05L71.9 213.47Z" fill="#0a1530" stroke="#0a1530" stroke-width="0.5"/>
<path d="M88.3 212.05L93.5 212.05L90.9 216.47Z" fill="#0a1530" stroke="#0a1530" stroke-width="0.5"/>
<path d="M107.3 212.35L112.5 212.35L109.9 216.77Z" fill="#0a1530" stroke="#0a1530" stroke-width="0.5"/>
<path d="M126.3 215.45L131.5 215.45L128.9 219.87Z" fill="#0a1530" stroke="#0a1530" stroke-width="0.5"/>
<path d="M145.3 213.05L150.5 213.05L147.9 217.47Z" fill="#0a1530" stroke="#0a1530" stroke-width="0.5"/>
<path d="M164.3 226.65L169.5 226.65L166.9 231.07Z" fill="#0a1530" stroke="#0a1530" stroke-width="0.5"/>
<path d="M183.3 226.65L188.5 226.65L185.9 231.07Z" fill="#0a1530" stroke="#0a1530" stroke-width="0.5"/>
<path d="M202.3 242.65L207.5 242.65L204.9 247.07Z" fill="#0a1530" stroke="#0a1530" stroke-width="0.5"/>
<path d="M33.9 185.2V256.65H204.9" fill="none" stroke="#000" stroke-width="1.4"/>
<text x="31.9" y="190.9" font-size="9" font-family="Liberation Sans, sans-serif" font-weight="bold" text-anchor="end" >1.5</text>
<text x="31.9" y="213.7" font-size="9" font-family="Liberation Sans, sans-serif" font-weight="bold" text-anchor="end" >1</text>
<text x="31.9" y="237.1" font-size="9" font-family="Liberation Sans, sans-serif" font-weight="bold" text-anchor="end" >0.5</text>
<text x="31.9" y="260.5" font-size="9" font-family="Liberation Sans, sans-serif" font-weight="bold" text-anchor="end" >0</text>
<text x="25.3" y="271.4" font-size="10.3" font-family="Liberation Sans, sans-serif" font-weight="bold" textLength="9.6" lengthAdjust="spacingAndGlyphs" >10</text>
<text x="35.2" y="265" font-size="6.2" font-family="Liberation Sans, sans-serif" font-weight="bold" >−2</text>
<text x="110.8" y="271.4" font-size="10.3" font-family="Liberation Sans, sans-serif" font-weight="bold" textLength="9.6" lengthAdjust="spacingAndGlyphs" >10</text>
<text x="120.7" y="265" font-size="6.2" font-family="Liberation Sans, sans-serif" font-weight="bold" >−1</text>
<text x="196.3" y="271.4" font-size="10.3" font-family="Liberation Sans, sans-serif" font-weight="bold" textLength="9.6" lengthAdjust="spacingAndGlyphs" >10</text>
<text x="206.2" y="265" font-size="6.2" font-family="Liberation Sans, sans-serif" font-weight="bold" >0</text>
<text x="91" y="283.9" font-size="10.5" font-family="Liberation Serif, serif" font-weight="bold" textLength="31" lengthAdjust="spacingAndGlyphs">Noise</text>
<text x="125.7" y="283.9" font-size="10.5" font-family="Liberation Serif, serif" font-style="italic">σ</text>
<text x="137.2" y="284.2" font-size="11.5" font-family="Liberation Serif, serif" textLength="9.6" lengthAdjust="spacingAndGlyphs">[1]</text>
<g transform="translate(10.4,221.1) rotate(-90)"><text x="0" y="0" font-size="10.5" font-family="Liberation Serif, serif" text-anchor="middle" textLength="57.5" lengthAdjust="spacingAndGlyphs"><tspan font-weight="bold">Slope m</tspan> [1]</text></g>
<rect x="94.9" y="189.05" width="106.2" height="15.05" fill="#fff" stroke="#000" stroke-width="1.4"/>
<line x1="99.9" y1="196.4" x2="123.7" y2="196.4" stroke="#c83838" stroke-width="1" />
<circle cx="111.8" cy="196.4" r="1.95" fill="#d01420" stroke="#3a0404" stroke-width="0.6"/>
<text x="126.7" y="200.3" font-size="9" font-family="Liberation Sans, sans-serif" font-weight="bold" textLength="24.1" lengthAdjust="spacingAndGlyphs" >STDP</text>
<line x1="157.1" y1="196.4" x2="180.3" y2="196.4" stroke="#1c2744" stroke-width="1" />
<path d="M166.5 194.95L170.9 194.95L168.7 198.69Z" fill="#0a1530" stroke="#0a1530" stroke-width="0.5"/>
<text x="183" y="200.3" font-size="9" font-family="Liberation Sans, sans-serif" font-weight="bold" textLength="14.3" lengthAdjust="spacingAndGlyphs" >NM</text>
<line x1="260.75" y1="250.7" x2="434.5" y2="250.7" stroke="#b8b8b8" stroke-width="0.9" stroke-dasharray="0.9 2.1"/>
<polyline points="260.75,250 280.06,250.5 299.36,250.2 318.67,249.9 337.97,249.4 357.28,248.5 376.58,246.5 395.89,242.8 415.19,242.8 434.5,224.2" fill="none" stroke="#d83c3c" stroke-width="0.95"/>
<circle cx="260.75" cy="250" r="1.95" fill="#c01420" stroke="#3a0404" stroke-width="0.6"/>
<circle cx="280.06" cy="250.5" r="1.95" fill="#c01420" stroke="#3a0404" stroke-width="0.6"/>
<circle cx="299.36" cy="250.2" r="1.95" fill="#c01420" stroke="#3a0404" stroke-width="0.6"/>
<circle cx="318.67" cy="249.9" r="1.95" fill="#c01420" stroke="#3a0404" stroke-width="0.6"/>
<circle cx="337.97" cy="249.4" r="1.95" fill="#c01420" stroke="#3a0404" stroke-width="0.6"/>
<circle cx="357.28" cy="248.5" r="1.95" fill="#c01420" stroke="#3a0404" stroke-width="0.6"/>
<circle cx="376.58" cy="246.5" r="1.95" fill="#c01420" stroke="#3a0404" stroke-width="0.6"/>
<circle cx="395.89" cy="242.8" r="1.95" fill="#c01420" stroke="#3a0404" stroke-width="0.6"/>
<circle cx="415.19" cy="242.8" r="1.95" fill="#c01420" stroke="#3a0404" stroke-width="0.6"/>
<circle cx="434.5" cy="224.2" r="1.95" fill="#c01420" stroke="#3a0404" stroke-width="0.6"/>
<polyline points="260.75,249.8 280.06,246 299.36,246.5 318.67,245 337.97,248.8 357.28,240.3 376.58,239.4 395.89,228.6 415.19,228.6 434.5,204.3" fill="none" stroke="#1c2744" stroke-width="1.0"/>
<path d="M258.15 247.85L263.35 247.85L260.75 252.27Z" fill="#0a1530" stroke="#0a1530" stroke-width="0.5"/>
<path d="M277.46 244.05L282.66 244.05L280.06 248.47Z" fill="#0a1530" stroke="#0a1530" stroke-width="0.5"/>
<path d="M296.76 244.55L301.96 244.55L299.36 248.97Z" fill="#0a1530" stroke="#0a1530" stroke-width="0.5"/>
<path d="M316.07 243.05L321.27 243.05L318.67 247.47Z" fill="#0a1530" stroke="#0a1530" stroke-width="0.5"/>
<path d="M335.37 246.85L340.57 246.85L337.97 251.27Z" fill="#0a1530" stroke="#0a1530" stroke-width="0.5"/>
<path d="M354.68 238.35L359.88 238.35L357.28 242.77Z" fill="#0a1530" stroke="#0a1530" stroke-width="0.5"/>
<path d="M373.98 237.45L379.18 237.45L376.58 241.87Z" fill="#0a1530" stroke="#0a1530" stroke-width="0.5"/>
<path d="M393.29 226.65L398.49 226.65L395.89 231.07Z" fill="#0a1530" stroke="#0a1530" stroke-width="0.5"/>
<path d="M412.59 226.65L417.79 226.65L415.19 231.07Z" fill="#0a1530" stroke="#0a1530" stroke-width="0.5"/>
<path d="M431.9 202.35L437.1 202.35L434.5 206.77Z" fill="#0a1530" stroke="#0a1530" stroke-width="0.5"/>
<path d="M260.75 185.2V256.65H434.5" fill="none" stroke="#000" stroke-width="1.4"/>
<text x="258.75" y="194.8" font-size="9" font-family="Liberation Sans, sans-serif" font-weight="bold" text-anchor="end" >1</text>
<text x="258.75" y="224.5" font-size="9" font-family="Liberation Sans, sans-serif" font-weight="bold" text-anchor="end" >0.5</text>
<text x="258.75" y="254.3" font-size="9" font-family="Liberation Sans, sans-serif" font-weight="bold" text-anchor="end" >0</text>
<text x="252.15" y="271.6" font-size="10.3" font-family="Liberation Sans, sans-serif" font-weight="bold" textLength="9.6" lengthAdjust="spacingAndGlyphs" >10</text>
<text x="262.05" y="265.2" font-size="6.2" font-family="Liberation Sans, sans-serif" font-weight="bold" >−2</text>
<text x="339.02" y="271.6" font-size="10.3" font-family="Liberation Sans, sans-serif" font-weight="bold" textLength="9.6" lengthAdjust="spacingAndGlyphs" >10</text>
<text x="348.93" y="265.2" font-size="6.2" font-family="Liberation Sans, sans-serif" font-weight="bold" >−1</text>
<text x="425.9" y="271.6" font-size="10.3" font-family="Liberation Sans, sans-serif" font-weight="bold" textLength="9.6" lengthAdjust="spacingAndGlyphs" >10</text>
<text x="435.8" y="265.2" font-size="6.2" font-family="Liberation Sans, sans-serif" font-weight="bold" >0</text>
<text x="319.1" y="284.2" font-size="10.5" font-family="Liberation Serif, serif" font-weight="bold" textLength="31" lengthAdjust="spacingAndGlyphs">Noise</text>
<text x="353.8" y="284.2" font-size="10.5" font-family="Liberation Serif, serif" font-style="italic">σ</text>
<text x="365.3" y="284.5" font-size="11.5" font-family="Liberation Serif, serif" textLength="9.6" lengthAdjust="spacingAndGlyphs">[1]</text>
<g transform="translate(238.4,222) rotate(-90)"><text x="0" y="0" font-size="10.5" font-family="Liberation Serif, serif" text-anchor="middle" textLength="62" lengthAdjust="spacingAndGlyphs"><tspan font-weight="bold">Interc. b</tspan> [1]</text></g>
<rect x="325" y="189.05" width="105.4" height="15.05" fill="#fff" stroke="#000" stroke-width="1.4"/>
<line x1="330" y1="196.4" x2="353.8" y2="196.4" stroke="#c83838" stroke-width="1" />
<circle cx="341.9" cy="196.4" r="1.95" fill="#d01420" stroke="#3a0404" stroke-width="0.6"/>
<text x="356.8" y="200.3" font-size="9" font-family="Liberation Sans, sans-serif" font-weight="bold" textLength="24.1" lengthAdjust="spacingAndGlyphs" >STDP</text>
<line x1="387.2" y1="196.4" x2="410.4" y2="196.4" stroke="#1c2744" stroke-width="1" />
<path d="M396.6 194.95L401 194.95L398.8 198.69Z" fill="#0a1530" stroke="#0a1530" stroke-width="0.5"/>
<text x="413.1" y="200.3" font-size="9" font-family="Liberation Sans, sans-serif" font-weight="bold" textLength="14.3" lengthAdjust="spacingAndGlyphs" >NM</text>
<line x1="498" y1="211.2" x2="664.2" y2="211.2" stroke="#b8b8b8" stroke-width="0.9" stroke-dasharray="0.9 2.1"/>
<polyline points="498,211.2 516.47,211.2 534.93,211.2 553.4,211.2 571.87,211.2 590.33,211.2 608.8,211.2 627.27,211.2 645.73,211.2 664.2,211.2" fill="none" stroke="#d83c3c" stroke-width="0.95"/>
<circle cx="498" cy="211.2" r="1.95" fill="#c01420" stroke="#3a0404" stroke-width="0.6"/>
<circle cx="516.47" cy="211.2" r="1.95" fill="#c01420" stroke="#3a0404" stroke-width="0.6"/>
<circle cx="534.93" cy="211.2" r="1.95" fill="#c01420" stroke="#3a0404" stroke-width="0.6"/>
<circle cx="553.4" cy="211.2" r="1.95" fill="#c01420" stroke="#3a0404" stroke-width="0.6"/>
<circle cx="571.87" cy="211.2" r="1.95" fill="#c01420" stroke="#3a0404" stroke-width="0.6"/>
<circle cx="590.33" cy="211.2" r="1.95" fill="#c01420" stroke="#3a0404" stroke-width="0.6"/>
<circle cx="608.8" cy="211.2" r="1.95" fill="#c01420" stroke="#3a0404" stroke-width="0.6"/>
<circle cx="627.27" cy="211.2" r="1.95" fill="#c01420" stroke="#3a0404" stroke-width="0.6"/>
<circle cx="645.73" cy="211.2" r="1.95" fill="#c01420" stroke="#3a0404" stroke-width="0.6"/>
<circle cx="664.2" cy="211.2" r="1.95" fill="#c01420" stroke="#3a0404" stroke-width="0.6"/>
<polyline points="498,211.6 516.47,211.8 534.93,211.8 553.4,211.8 571.87,211.9 590.33,212.6 608.8,213 627.27,214.8 645.73,214.8 664.2,227.4" fill="none" stroke="#1c2744" stroke-width="1.0"/>
<path d="M495.4 209.65L500.6 209.65L498 214.07Z" fill="#0a1530" stroke="#0a1530" stroke-width="0.5"/>
<path d="M513.87 209.85L519.07 209.85L516.47 214.27Z" fill="#0a1530" stroke="#0a1530" stroke-width="0.5"/>
<path d="M532.33 209.85L537.53 209.85L534.93 214.27Z" fill="#0a1530" stroke="#0a1530" stroke-width="0.5"/>
<path d="M550.8 209.85L556 209.85L553.4 214.27Z" fill="#0a1530" stroke="#0a1530" stroke-width="0.5"/>
<path d="M569.27 209.95L574.47 209.95L571.87 214.37Z" fill="#0a1530" stroke="#0a1530" stroke-width="0.5"/>
<path d="M587.73 210.65L592.93 210.65L590.33 215.07Z" fill="#0a1530" stroke="#0a1530" stroke-width="0.5"/>
<path d="M606.2 211.05L611.4 211.05L608.8 215.47Z" fill="#0a1530" stroke="#0a1530" stroke-width="0.5"/>
<path d="M624.67 212.85L629.87 212.85L627.27 217.27Z" fill="#0a1530" stroke="#0a1530" stroke-width="0.5"/>
<path d="M643.13 212.85L648.33 212.85L645.73 217.27Z" fill="#0a1530" stroke="#0a1530" stroke-width="0.5"/>
<path d="M661.6 225.45L666.8 225.45L664.2 229.87Z" fill="#0a1530" stroke="#0a1530" stroke-width="0.5"/>
<path d="M498 185.2V259.35H664.2" fill="none" stroke="#000" stroke-width="1.4"/>
<text x="496" y="191.7" font-size="9" font-family="Liberation Sans, sans-serif" font-weight="bold" text-anchor="end" >1.5</text>
<text x="496" y="214.5" font-size="9" font-family="Liberation Sans, sans-serif" font-weight="bold" text-anchor="end" >1</text>
<text x="496" y="239.4" font-size="9" font-family="Liberation Sans, sans-serif" font-weight="bold" text-anchor="end" >0.5</text>
<text x="496" y="263" font-size="9" font-family="Liberation Sans, sans-serif" font-weight="bold" text-anchor="end" >0</text>
<text x="489.4" y="274" font-size="10.3" font-family="Liberation Sans, sans-serif" font-weight="bold" textLength="9.6" lengthAdjust="spacingAndGlyphs" >10</text>
<text x="499.3" y="267.6" font-size="6.2" font-family="Liberation Sans, sans-serif" font-weight="bold" >−2</text>
<text x="572.5" y="274" font-size="10.3" font-family="Liberation Sans, sans-serif" font-weight="bold" textLength="9.6" lengthAdjust="spacingAndGlyphs" >10</text>
<text x="582.4" y="267.6" font-size="6.2" font-family="Liberation Sans, sans-serif" font-weight="bold" >−1</text>
<text x="655.6" y="274" font-size="10.3" font-family="Liberation Sans, sans-serif" font-weight="bold" textLength="9.6" lengthAdjust="spacingAndGlyphs" >10</text>
<text x="665.5" y="267.6" font-size="6.2" font-family="Liberation Sans, sans-serif" font-weight="bold" >0</text>
<text x="552.6" y="286.8" font-size="10.5" font-family="Liberation Serif, serif" font-weight="bold" textLength="31" lengthAdjust="spacingAndGlyphs">Noise</text>
<text x="587.3" y="286.8" font-size="10.5" font-family="Liberation Serif, serif" font-style="italic">σ</text>
<text x="598.8" y="287.1" font-size="11.5" font-family="Liberation Serif, serif" textLength="9.6" lengthAdjust="spacingAndGlyphs">[1]</text>
<g transform="translate(474.6,222.1) rotate(-90)"><text x="0" y="0" font-size="10.5" font-family="Liberation Serif, serif" text-anchor="middle"><tspan font-weight="bold">R</tspan><tspan font-size="6.5" dy="-4.5" font-weight="bold">2</tspan><tspan font-size="6.5" dx="-3.3" dy="7" font-weight="bold">adj</tspan><tspan dy="-2.5" dx="3"> [1]</tspan></text></g>
<rect x="554.05" y="189.05" width="106.15" height="15.05" fill="#fff" stroke="#000" stroke-width="1.4"/>
<line x1="559.05" y1="196.4" x2="582.85" y2="196.4" stroke="#c83838" stroke-width="1" />
<circle cx="570.95" cy="196.4" r="1.95" fill="#d01420" stroke="#3a0404" stroke-width="0.6"/>
<text x="585.85" y="200.3" font-size="9" font-family="Liberation Sans, sans-serif" font-weight="bold" textLength="24.1" lengthAdjust="spacingAndGlyphs" >STDP</text>
<line x1="616.25" y1="196.4" x2="639.45" y2="196.4" stroke="#1c2744" stroke-width="1" />
<path d="M625.65 194.95L630.05 194.95L627.85 198.69Z" fill="#0a1530" stroke="#0a1530" stroke-width="0.5"/>
<text x="642.15" y="200.3" font-size="9" font-family="Liberation Sans, sans-serif" font-weight="bold" textLength="14.3" lengthAdjust="spacingAndGlyphs" >NM</text>
</svg></body></html>
